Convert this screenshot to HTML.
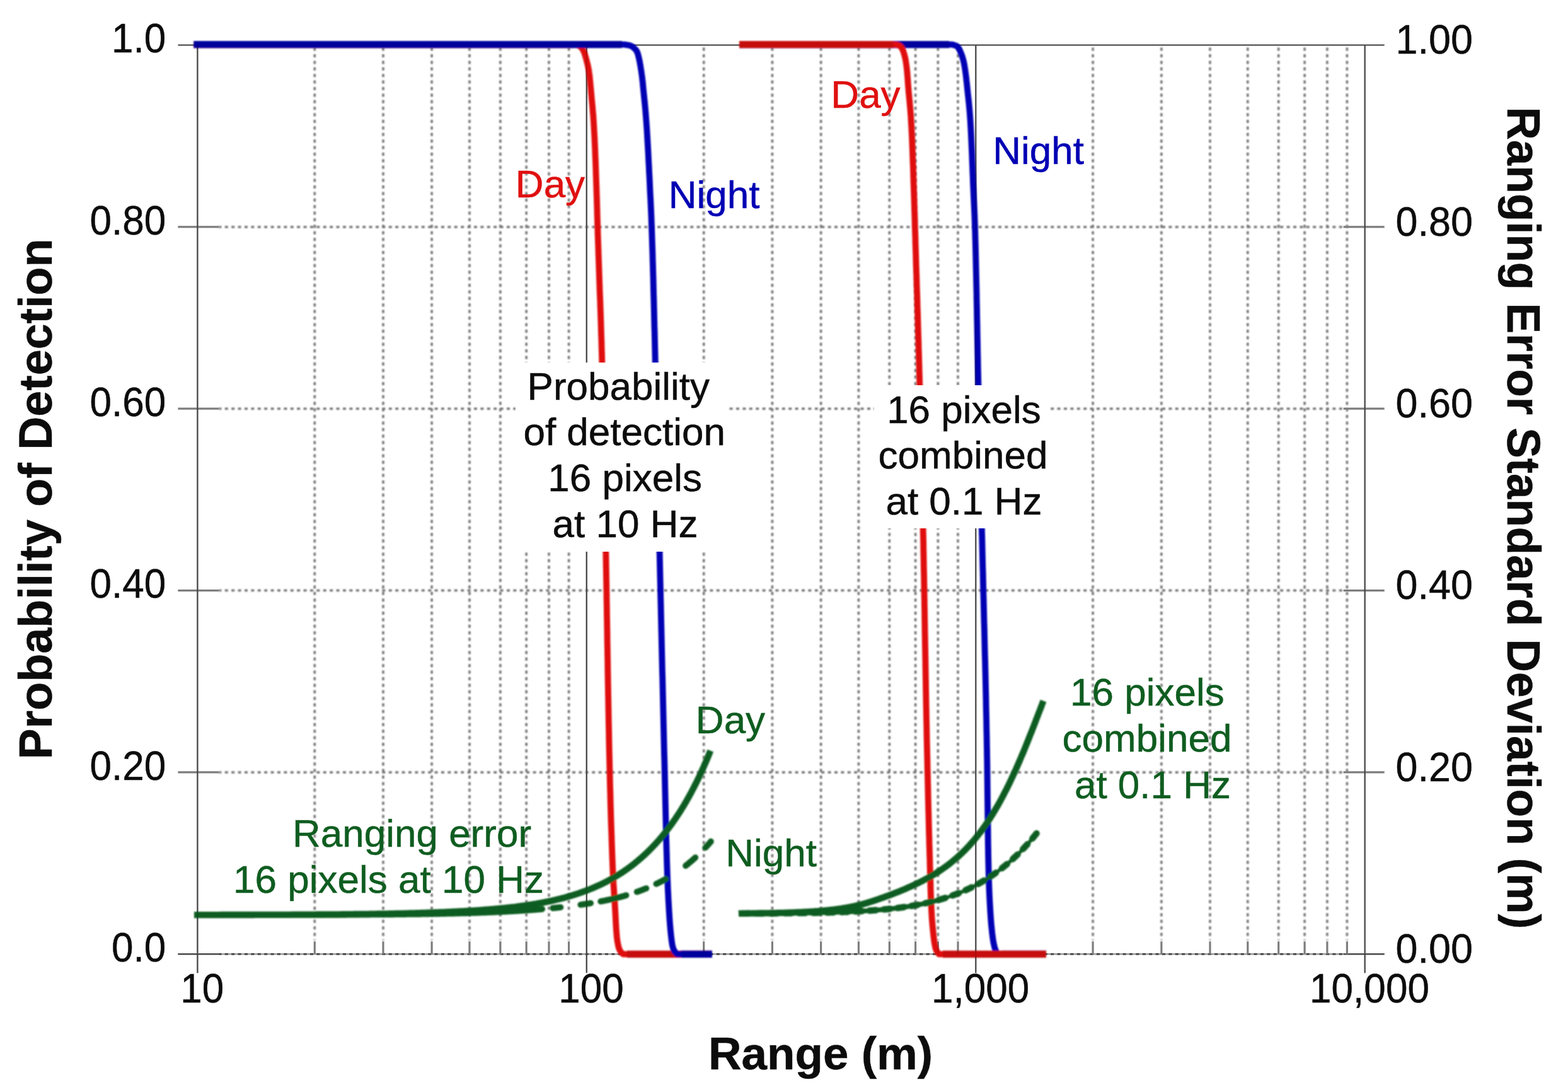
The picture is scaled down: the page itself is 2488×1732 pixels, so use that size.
<!DOCTYPE html><html><head><meta charset="utf-8"><title>Range chart</title><style>
html,body{margin:0;padding:0;background:#fff;}body{width:2488px;height:1732px;overflow:hidden;}
svg{display:block;font-family:"Liberation Sans",sans-serif;}
text{stroke-width:0.5px;paint-order:stroke;}
.tk{font-size:65px;fill:#0c0c0c;stroke:#0c0c0c;}
.tkx{font-size:65px;fill:#0c0c0c;stroke:#0c0c0c;}
.ttl{font-size:73.6px;font-weight:bold;fill:#0c0c0c;stroke:#0c0c0c;}
.ann{font-size:62px;}
</style></head><body>
<svg width="2488" height="1732" viewBox="0 0 2488 1732">
<defs><filter id="b" x="-5%" y="-5%" width="110%" height="110%"><feGaussianBlur stdDeviation="0.8"/></filter>
<filter id="b2" x="-5%" y="-5%" width="110%" height="110%"><feGaussianBlur stdDeviation="0.5"/></filter></defs>
<rect width="2488" height="1732" fill="#fff"/>
<g filter="url(#b)" stroke="#727272" stroke-width="3.5" stroke-dasharray="5 5.4" fill="none">
<line x1="499.3" y1="75.6" x2="499.3" y2="1491.2"/>
<line x1="608.0" y1="75.6" x2="608.0" y2="1491.2"/>
<line x1="685.1" y1="75.6" x2="685.1" y2="1491.2"/>
<line x1="745.0" y1="75.6" x2="745.0" y2="1491.2"/>
<line x1="793.9" y1="75.6" x2="793.9" y2="1491.2"/>
<line x1="835.2" y1="75.6" x2="835.2" y2="1491.2"/>
<line x1="871.0" y1="75.6" x2="871.0" y2="1491.2"/>
<line x1="902.6" y1="75.6" x2="902.6" y2="1491.2"/>
<line x1="1116.7" y1="75.6" x2="1116.7" y2="1491.2"/>
<line x1="1225.4" y1="75.6" x2="1225.4" y2="1491.2"/>
<line x1="1302.6" y1="75.6" x2="1302.6" y2="1491.2"/>
<line x1="1362.4" y1="75.6" x2="1362.4" y2="1491.2"/>
<line x1="1411.3" y1="75.6" x2="1411.3" y2="1491.2"/>
<line x1="1452.6" y1="75.6" x2="1452.6" y2="1491.2"/>
<line x1="1488.4" y1="75.6" x2="1488.4" y2="1491.2"/>
<line x1="1520.0" y1="75.6" x2="1520.0" y2="1491.2"/>
<line x1="1734.1" y1="75.6" x2="1734.1" y2="1491.2"/>
<line x1="1842.9" y1="75.6" x2="1842.9" y2="1491.2"/>
<line x1="1920.0" y1="75.6" x2="1920.0" y2="1491.2"/>
<line x1="1979.8" y1="75.6" x2="1979.8" y2="1491.2"/>
<line x1="2028.7" y1="75.6" x2="2028.7" y2="1491.2"/>
<line x1="2070.1" y1="75.6" x2="2070.1" y2="1491.2"/>
<line x1="2105.9" y1="75.6" x2="2105.9" y2="1491.2"/>
<line x1="2137.4" y1="75.6" x2="2137.4" y2="1491.2"/>
<line x1="347.4" y1="1224.9" x2="2131.7" y2="1224.9" stroke-dashoffset="1"/>
<line x1="347.4" y1="936.6" x2="2131.7" y2="936.6" stroke-dashoffset="1"/>
<line x1="347.4" y1="648.2" x2="2131.7" y2="648.2" stroke-dashoffset="1"/>
<line x1="347.4" y1="359.9" x2="2131.7" y2="359.9" stroke-dashoffset="1"/>
</g>
<g filter="url(#b2)" fill="none">
<line x1="282.4" y1="1513.2" x2="2196.7" y2="1513.2" stroke="#999" stroke-width="2.4"/>
<g style="mix-blend-mode:multiply" stroke="#6e6e6e" stroke-width="3" stroke-dasharray="5 5.4"><line x1="347.4" y1="1513.2" x2="2131.7" y2="1513.2" stroke-dashoffset="1"/></g>
<g stroke="#3c3c3c" stroke-width="2">
<line x1="282.4" y1="71.6" x2="2196.7" y2="71.6"/>
<line x1="282.4" y1="1513.2" x2="347.4" y2="1513.2"/>
<line x1="2131.7" y1="1513.2" x2="2196.7" y2="1513.2"/>
</g></g>
<g filter="url(#b2)" fill="none">
<g stroke="#8a8a8a" stroke-width="3.2">
<line x1="282.4" y1="1224.9" x2="347.4" y2="1224.9"/>
<line x1="2131.7" y1="1224.9" x2="2196.7" y2="1224.9"/>
<line x1="282.4" y1="936.6" x2="347.4" y2="936.6"/>
<line x1="2131.7" y1="936.6" x2="2196.7" y2="936.6"/>
<line x1="282.4" y1="648.2" x2="347.4" y2="648.2"/>
<line x1="2131.7" y1="648.2" x2="2196.7" y2="648.2"/>
<line x1="282.4" y1="359.9" x2="347.4" y2="359.9"/>
<line x1="2131.7" y1="359.9" x2="2196.7" y2="359.9"/>
<line x1="499.3" y1="1493.2" x2="499.3" y2="1513.2"/>
<line x1="608.0" y1="1493.2" x2="608.0" y2="1513.2"/>
<line x1="685.1" y1="1493.2" x2="685.1" y2="1513.2"/>
<line x1="745.0" y1="1493.2" x2="745.0" y2="1513.2"/>
<line x1="793.9" y1="1493.2" x2="793.9" y2="1513.2"/>
<line x1="835.2" y1="1493.2" x2="835.2" y2="1513.2"/>
<line x1="871.0" y1="1493.2" x2="871.0" y2="1513.2"/>
<line x1="902.6" y1="1493.2" x2="902.6" y2="1513.2"/>
<line x1="1116.7" y1="1493.2" x2="1116.7" y2="1513.2"/>
<line x1="1225.4" y1="1493.2" x2="1225.4" y2="1513.2"/>
<line x1="1302.6" y1="1493.2" x2="1302.6" y2="1513.2"/>
<line x1="1362.4" y1="1493.2" x2="1362.4" y2="1513.2"/>
<line x1="1411.3" y1="1493.2" x2="1411.3" y2="1513.2"/>
<line x1="1452.6" y1="1493.2" x2="1452.6" y2="1513.2"/>
<line x1="1488.4" y1="1493.2" x2="1488.4" y2="1513.2"/>
<line x1="1520.0" y1="1493.2" x2="1520.0" y2="1513.2"/>
<line x1="1734.1" y1="1493.2" x2="1734.1" y2="1513.2"/>
<line x1="1842.9" y1="1493.2" x2="1842.9" y2="1513.2"/>
<line x1="1920.0" y1="1493.2" x2="1920.0" y2="1513.2"/>
<line x1="1979.8" y1="1493.2" x2="1979.8" y2="1513.2"/>
<line x1="2028.7" y1="1493.2" x2="2028.7" y2="1513.2"/>
<line x1="2070.1" y1="1493.2" x2="2070.1" y2="1513.2"/>
<line x1="2105.9" y1="1493.2" x2="2105.9" y2="1513.2"/>
<line x1="2137.4" y1="1493.2" x2="2137.4" y2="1513.2"/>
</g>
<g stroke="#555" stroke-width="2.3">
<line x1="313.4" y1="71.6" x2="313.4" y2="1543.2"/>
<line x1="2165.7" y1="71.6" x2="2165.7" y2="1543.2"/>
<line x1="930.8" y1="71.6" x2="930.8" y2="1543.2"/>
<line x1="1548.3" y1="71.6" x2="1548.3" y2="1543.2"/>
</g></g>
<g filter="url(#b)">
<path d="M307.5 70.6L913.0 70.6L916.5 71.6L918.7 72.6L920.3 73.6L921.6 74.6L922.6 75.6L923.4 76.6L924.1 77.6L924.7 78.6L925.3 79.6L925.8 80.6L926.3 81.6L926.7 82.6L927.1 83.6L927.5 84.6L927.8 85.6L928.1 86.6L928.5 87.6L928.7 88.6L929.0 89.6L929.3 90.6L929.6 91.6L929.9 92.6L930.1 93.6L930.4 94.6L930.7 95.6L930.9 96.6L931.2 97.6L931.4 98.6L931.7 99.6L931.9 100.6L932.2 101.6L932.4 102.6L932.7 103.6L932.9 104.6L933.1 105.6L933.3 106.6L933.5 107.6L933.7 108.6L933.9 109.6L934.1 110.6L934.3 111.6L934.4 112.6L934.6 113.6L934.7 114.6L934.9 115.6L935.0 116.6L935.1 117.6L935.3 118.6L935.4 119.6L935.5 120.6L935.6 121.6L935.7 122.6L935.8 123.6L935.9 124.6L936.0 125.6L936.1 126.6L936.2 127.6L936.3 128.6L936.4 129.6L936.5 130.6L937.3 139.4L938.1 148.2L938.9 157.1L939.8 165.9L940.5 174.7L941.3 183.5L941.9 192.3L942.4 201.1L942.9 210.0L943.4 218.8L943.8 227.6L944.2 236.4L944.5 245.2L944.9 254.1L945.2 262.9L945.5 271.7L945.8 280.5L946.1 289.3L946.4 298.2L946.7 307.0L947.0 315.8L947.2 324.6L947.5 333.4L947.7 342.2L948.0 351.1L948.2 359.9L948.5 368.7L948.8 377.5L949.1 386.3L949.4 395.2L949.7 404.0L950.0 412.8L950.3 421.6L950.6 430.4L950.9 439.3L951.2 448.1L951.5 456.9L951.8 465.7L952.2 474.5L952.5 483.3L952.8 492.2L953.1 501.0L953.4 509.8L953.7 518.6L953.9 527.4L954.2 536.3L954.5 545.1L954.7 553.9L955.0 562.7L955.2 571.5L955.4 580.4L955.7 589.2L955.9 598.0L956.1 606.8L956.3 615.6L956.5 624.4L956.7 633.3L956.9 642.1L957.1 650.9L957.2 659.7L957.4 668.5L957.6 677.4L957.8 686.2L958.0 695.0L958.1 703.8L958.3 712.6L958.5 721.5L958.6 730.3L958.8 739.1L959.0 747.9L959.1 756.7L959.3 765.5L959.5 774.4L959.6 783.2L959.8 792.0L959.9 800.8L960.1 809.6L960.3 818.5L960.4 827.3L960.6 836.1L960.7 844.9L960.9 853.7L961.1 862.5L961.2 871.4L961.4 880.2L961.6 889.0L961.7 897.8L961.9 906.6L962.0 915.5L962.2 924.3L962.3 933.1L962.5 941.9L962.6 950.7L962.8 959.6L962.9 968.4L963.0 977.2L963.2 986.0L963.3 994.8L963.5 1003.6L963.6 1012.5L963.7 1021.3L963.9 1030.1L964.0 1038.9L964.2 1047.7L964.3 1056.6L964.4 1065.4L964.6 1074.2L964.7 1083.0L964.9 1091.8L965.0 1100.7L965.2 1109.5L965.3 1118.3L965.5 1127.1L965.7 1135.9L965.8 1144.7L966.0 1153.6L966.2 1162.4L966.3 1171.2L966.5 1180.0L966.7 1188.8L966.9 1197.7L967.1 1206.5L967.3 1215.3L967.5 1224.1L967.7 1232.9L967.9 1241.8L968.1 1250.6L968.4 1259.4L968.6 1268.2L968.8 1277.0L969.1 1285.8L969.3 1294.7L969.6 1303.5L969.9 1312.3L970.2 1321.1L970.5 1329.9L970.8 1338.8L971.1 1347.6L971.4 1356.4L971.8 1365.2L972.1 1374.0L972.5 1382.9L973.0 1391.7L973.4 1400.5L974.0 1409.3L974.5 1418.1L975.1 1426.9L975.7 1435.8L976.2 1444.6L976.7 1453.4L976.7 1454.4L976.8 1455.4L976.8 1456.4L976.9 1457.4L976.9 1458.4L977.0 1459.4L977.0 1460.4L977.1 1461.4L977.1 1462.4L977.2 1463.4L977.2 1464.4L977.3 1465.4L977.3 1466.4L977.4 1467.4L977.5 1468.4L977.5 1469.4L977.6 1470.4L977.6 1471.4L977.7 1472.4L977.8 1473.4L977.8 1474.4L977.9 1475.4L978.0 1476.4L978.1 1477.4L978.1 1478.4L978.2 1479.4L978.3 1480.4L978.4 1481.4L978.5 1482.4L978.6 1483.4L978.6 1484.4L978.7 1485.4L978.8 1486.4L978.9 1487.4L979.1 1488.4L979.2 1489.4L979.3 1490.4L979.4 1491.4L979.6 1492.4L979.7 1493.4L979.9 1494.4L980.1 1495.4L980.3 1496.4L980.5 1497.4L980.7 1498.4L980.9 1499.4L981.1 1500.4L981.4 1501.4L981.6 1502.4L981.9 1503.4L982.2 1504.4L982.6 1505.4L983.1 1506.4L983.6 1507.4L984.1 1508.4L984.8 1509.4L985.6 1510.4L986.6 1511.4L987.8 1512.4L989.0 1513.4L1130.0 1513.4" fill="none" stroke="#e01010" stroke-width="9.8" stroke-linejoin="round"/>
<line x1="307.5" y1="70.6" x2="909.0" y2="70.6" stroke="#c60c0c" stroke-width="11.4"/>
<line x1="995.0" y1="1513.4" x2="1130.0" y2="1513.4" stroke="#c60c0c" stroke-width="11.4"/>
<path d="M307.5 70.6L990.8 70.6L996.9 71.6L1000.7 72.6L1002.7 73.6L1004.2 74.6L1005.4 75.6L1006.5 76.6L1007.5 77.6L1008.5 78.6L1009.3 79.6L1010.0 80.6L1010.6 81.6L1011.0 82.6L1011.4 83.6L1011.8 84.6L1012.1 85.6L1012.4 86.6L1012.7 87.6L1012.9 88.6L1013.2 89.6L1013.4 90.6L1013.6 91.6L1013.9 92.6L1014.1 93.6L1014.3 94.6L1014.5 95.6L1014.8 96.6L1015.0 97.6L1015.2 98.6L1015.3 99.6L1015.5 100.6L1015.7 101.6L1015.9 102.6L1016.1 103.6L1016.2 104.6L1016.4 105.6L1016.6 106.6L1016.7 107.6L1016.9 108.6L1017.0 109.6L1017.2 110.6L1017.4 111.6L1017.5 112.6L1017.7 113.6L1017.8 114.6L1017.9 115.6L1018.1 116.6L1018.2 117.6L1018.4 118.6L1018.5 119.6L1018.6 120.6L1018.8 121.6L1018.9 122.6L1019.0 123.6L1019.1 124.6L1019.2 125.6L1019.3 126.6L1019.5 127.6L1019.6 128.6L1019.7 129.6L1019.8 130.6L1020.6 139.4L1021.5 148.2L1022.4 157.1L1023.3 165.9L1024.1 174.7L1024.8 183.5L1025.5 192.3L1026.1 201.1L1026.7 210.0L1027.2 218.8L1027.7 227.6L1028.2 236.4L1028.7 245.2L1029.1 254.1L1029.6 262.9L1030.0 271.7L1030.5 280.5L1030.9 289.3L1031.3 298.2L1031.7 307.0L1032.2 315.8L1032.6 324.6L1033.0 333.4L1033.4 342.2L1033.7 351.1L1034.0 359.9L1034.3 368.7L1034.6 377.5L1034.9 386.3L1035.2 395.2L1035.5 404.0L1035.7 412.8L1036.0 421.6L1036.2 430.4L1036.5 439.3L1036.7 448.1L1036.9 456.9L1037.1 465.7L1037.4 474.5L1037.6 483.3L1037.8 492.2L1038.0 501.0L1038.2 509.8L1038.4 518.6L1038.7 527.4L1038.9 536.3L1039.1 545.1L1039.3 553.9L1039.5 562.7L1039.7 571.5L1039.9 580.4L1040.1 589.2L1040.4 598.0L1040.6 606.8L1040.8 615.6L1041.0 624.4L1041.2 633.3L1041.4 642.1L1041.6 650.9L1041.8 659.7L1042.0 668.5L1042.2 677.4L1042.4 686.2L1042.6 695.0L1042.8 703.8L1043.0 712.6L1043.2 721.5L1043.4 730.3L1043.6 739.1L1043.8 747.9L1044.0 756.7L1044.2 765.5L1044.4 774.4L1044.6 783.2L1044.8 792.0L1044.9 800.8L1045.1 809.6L1045.3 818.5L1045.5 827.3L1045.7 836.1L1045.9 844.9L1046.1 853.7L1046.3 862.5L1046.5 871.4L1046.7 880.2L1046.9 889.0L1047.1 897.8L1047.3 906.6L1047.5 915.5L1047.7 924.3L1047.9 933.1L1048.1 941.9L1048.3 950.7L1048.5 959.6L1048.7 968.4L1048.9 977.2L1049.1 986.0L1049.3 994.8L1049.5 1003.6L1049.7 1012.5L1049.9 1021.3L1050.1 1030.1L1050.3 1038.9L1050.5 1047.7L1050.7 1056.6L1050.9 1065.4L1051.2 1074.2L1051.4 1083.0L1051.6 1091.8L1051.8 1100.7L1052.0 1109.5L1052.2 1118.3L1052.4 1127.1L1052.6 1135.9L1052.8 1144.7L1053.0 1153.6L1053.2 1162.4L1053.4 1171.2L1053.6 1180.0L1053.8 1188.8L1054.0 1197.7L1054.3 1206.5L1054.5 1215.3L1054.7 1224.1L1054.9 1232.9L1055.1 1241.8L1055.3 1250.6L1055.5 1259.4L1055.7 1268.2L1055.9 1277.0L1056.1 1285.8L1056.3 1294.7L1056.5 1303.5L1056.7 1312.3L1056.9 1321.1L1057.1 1329.9L1057.4 1338.8L1057.6 1347.6L1057.9 1356.4L1058.1 1365.2L1058.4 1374.0L1058.7 1382.9L1059.0 1391.7L1059.4 1400.5L1059.7 1409.3L1060.2 1418.1L1060.6 1426.9L1061.1 1435.8L1061.6 1444.6L1062.2 1453.4L1062.2 1454.4L1062.3 1455.4L1062.4 1456.4L1062.4 1457.4L1062.5 1458.4L1062.6 1459.4L1062.7 1460.4L1062.7 1461.4L1062.8 1462.4L1062.9 1463.4L1063.0 1464.4L1063.0 1465.4L1063.1 1466.4L1063.2 1467.4L1063.3 1468.4L1063.4 1469.4L1063.5 1470.4L1063.6 1471.4L1063.6 1472.4L1063.7 1473.4L1063.8 1474.4L1063.9 1475.4L1064.0 1476.4L1064.1 1477.4L1064.2 1478.4L1064.3 1479.4L1064.4 1480.4L1064.5 1481.4L1064.6 1482.4L1064.7 1483.4L1064.8 1484.4L1064.9 1485.4L1065.1 1486.4L1065.2 1487.4L1065.3 1488.4L1065.4 1489.4L1065.5 1490.4L1065.6 1491.4L1065.8 1492.4L1065.9 1493.4L1066.1 1494.4L1066.2 1495.4L1066.4 1496.4L1066.5 1497.4L1066.7 1498.4L1066.9 1499.4L1067.1 1500.4L1067.4 1501.4L1067.6 1502.4L1067.9 1503.4L1068.2 1504.4L1068.6 1505.4L1069.1 1506.4L1069.6 1507.4L1070.1 1508.4L1070.8 1509.4L1071.6 1510.4L1072.6 1511.4L1073.8 1512.4L1075.0 1513.4L1130.0 1513.4" fill="none" stroke="#0000b4" stroke-width="9.8" stroke-linejoin="round"/>
<line x1="307.5" y1="70.6" x2="986.8" y2="70.6" stroke="#00009c" stroke-width="11.4"/>
<line x1="1081.0" y1="1513.4" x2="1130.0" y2="1513.4" stroke="#00009c" stroke-width="11.4"/>
<path d="M1173.0 70.6L1510.2 70.6L1514.1 71.6L1517.3 72.6L1518.7 73.6L1519.7 74.6L1520.6 75.6L1521.3 76.6L1521.9 77.6L1522.4 78.6L1522.9 79.6L1523.3 80.6L1523.7 81.6L1524.1 82.6L1524.6 83.6L1525.0 84.6L1525.4 85.6L1525.7 86.6L1526.1 87.6L1526.4 88.6L1526.8 89.6L1527.1 90.6L1527.4 91.6L1527.7 92.6L1528.0 93.6L1528.3 94.6L1528.5 95.6L1528.8 96.6L1529.0 97.6L1529.3 98.6L1529.5 99.6L1529.7 100.6L1529.9 101.6L1530.1 102.6L1530.3 103.6L1530.4 104.6L1530.6 105.6L1530.8 106.6L1530.9 107.6L1531.1 108.6L1531.3 109.6L1531.4 110.6L1531.6 111.6L1531.7 112.6L1531.8 113.6L1532.0 114.6L1532.1 115.6L1532.3 116.6L1532.4 117.6L1532.5 118.6L1532.6 119.6L1532.8 120.6L1532.9 121.6L1533.0 122.6L1533.1 123.6L1533.2 124.6L1533.3 125.6L1533.4 126.6L1533.5 127.6L1533.6 128.6L1533.8 129.6L1533.9 130.6L1534.8 139.4L1535.7 148.2L1536.7 157.1L1537.6 165.9L1538.4 174.7L1539.1 183.5L1539.7 192.3L1540.2 201.1L1540.7 210.0L1541.1 218.8L1541.5 227.6L1541.9 236.4L1542.3 245.2L1542.6 254.1L1543.0 262.9L1543.3 271.7L1543.7 280.5L1544.0 289.3L1544.4 298.2L1544.8 307.0L1545.2 315.8L1545.6 324.6L1546.0 333.4L1546.4 342.2L1546.7 351.1L1547.0 359.9L1547.3 368.7L1547.5 377.5L1547.8 386.3L1548.0 395.2L1548.2 404.0L1548.4 412.8L1548.6 421.6L1548.8 430.4L1549.0 439.3L1549.2 448.1L1549.4 456.9L1549.6 465.7L1549.7 474.5L1549.9 483.3L1550.1 492.2L1550.2 501.0L1550.4 509.8L1550.6 518.6L1550.7 527.4L1550.9 536.3L1551.1 545.1L1551.2 553.9L1551.4 562.7L1551.6 571.5L1551.7 580.4L1551.9 589.2L1552.1 598.0L1552.3 606.8L1552.5 615.6L1552.7 624.4L1552.9 633.3L1553.1 642.1L1553.3 650.9L1553.5 659.7L1553.7 668.5L1554.0 677.4L1554.2 686.2L1554.4 695.0L1554.6 703.8L1554.8 712.6L1555.0 721.5L1555.3 730.3L1555.5 739.1L1555.7 747.9L1555.9 756.7L1556.1 765.5L1556.3 774.4L1556.6 783.2L1556.8 792.0L1557.0 800.8L1557.2 809.6L1557.4 818.5L1557.6 827.3L1557.8 836.1L1558.0 844.9L1558.3 853.7L1558.5 862.5L1558.7 871.4L1558.9 880.2L1559.1 889.0L1559.3 897.8L1559.6 906.6L1559.8 915.5L1560.0 924.3L1560.2 933.1L1560.4 941.9L1560.7 950.7L1560.9 959.6L1561.1 968.4L1561.3 977.2L1561.5 986.0L1561.8 994.8L1562.0 1003.6L1562.2 1012.5L1562.4 1021.3L1562.6 1030.1L1562.8 1038.9L1563.1 1047.7L1563.3 1056.6L1563.5 1065.4L1563.7 1074.2L1563.9 1083.0L1564.1 1091.8L1564.3 1100.7L1564.5 1109.5L1564.6 1118.3L1564.8 1127.1L1565.0 1135.9L1565.2 1144.7L1565.3 1153.6L1565.5 1162.4L1565.7 1171.2L1565.8 1180.0L1566.0 1188.8L1566.1 1197.7L1566.3 1206.5L1566.4 1215.3L1566.5 1224.1L1566.6 1232.9L1566.7 1241.8L1566.8 1250.6L1566.9 1259.4L1567.0 1268.2L1567.1 1277.0L1567.2 1285.8L1567.3 1294.7L1567.4 1303.5L1567.5 1312.3L1567.6 1321.1L1567.7 1329.9L1567.8 1338.8L1568.0 1347.6L1568.1 1356.4L1568.3 1365.2L1568.5 1374.0L1568.7 1382.9L1568.9 1391.7L1569.2 1400.5L1569.5 1409.3L1569.9 1418.1L1570.3 1426.9L1570.8 1435.8L1571.3 1444.6L1571.9 1453.4L1571.9 1454.4L1572.0 1455.4L1572.1 1456.4L1572.2 1457.4L1572.2 1458.4L1572.3 1459.4L1572.4 1460.4L1572.5 1461.4L1572.6 1462.4L1572.6 1463.4L1572.7 1464.4L1572.8 1465.4L1572.9 1466.4L1573.0 1467.4L1573.1 1468.4L1573.2 1469.4L1573.3 1470.4L1573.4 1471.4L1573.5 1472.4L1573.6 1473.4L1573.7 1474.4L1573.8 1475.4L1573.9 1476.4L1574.0 1477.4L1574.1 1478.4L1574.2 1479.4L1574.3 1480.4L1574.5 1481.4L1574.6 1482.4L1574.7 1483.4L1574.8 1484.4L1575.0 1485.4L1575.1 1486.4L1575.2 1487.4L1575.4 1488.4L1575.5 1489.4L1575.7 1490.4L1575.8 1491.4L1576.0 1492.4L1576.2 1493.4L1576.3 1494.4L1576.5 1495.4L1576.7 1496.4L1576.9 1497.4L1577.2 1498.4L1577.4 1499.4L1577.6 1500.4L1577.9 1501.4L1578.1 1502.4L1578.4 1503.4L1578.7 1504.4L1579.0 1505.4L1579.4 1506.4L1579.8 1507.4L1580.2 1508.4L1580.7 1509.4L1581.4 1510.4L1582.2 1511.4L1583.1 1512.4L1584.0 1513.4L1660.0 1513.4" fill="none" stroke="#0000b4" stroke-width="9.8" stroke-linejoin="round"/>
<line x1="1173.0" y1="70.6" x2="1506.2" y2="70.6" stroke="#00009c" stroke-width="11.4"/>
<line x1="1590.0" y1="1513.4" x2="1660.0" y2="1513.4" stroke="#00009c" stroke-width="11.4"/>
<path d="M1173.0 70.6L1421.4 70.6L1424.7 71.6L1427.4 72.6L1428.7 73.6L1429.6 74.6L1430.4 75.6L1431.1 76.6L1431.7 77.6L1432.2 78.6L1432.6 79.6L1433.0 80.6L1433.3 81.6L1433.7 82.6L1434.0 83.6L1434.3 84.6L1434.6 85.6L1434.9 86.6L1435.2 87.6L1435.5 88.6L1435.7 89.6L1436.0 90.6L1436.2 91.6L1436.4 92.6L1436.6 93.6L1436.8 94.6L1437.0 95.6L1437.2 96.6L1437.3 97.6L1437.5 98.6L1437.7 99.6L1437.8 100.6L1438.0 101.6L1438.1 102.6L1438.2 103.6L1438.3 104.6L1438.5 105.6L1438.6 106.6L1438.7 107.6L1438.8 108.6L1438.9 109.6L1439.0 110.6L1439.1 111.6L1439.2 112.6L1439.3 113.6L1439.4 114.6L1439.5 115.6L1439.6 116.6L1439.7 117.6L1439.7 118.6L1439.8 119.6L1439.9 120.6L1440.0 121.6L1440.1 122.6L1440.1 123.6L1440.2 124.6L1440.3 125.6L1440.3 126.6L1440.4 127.6L1440.5 128.6L1440.6 129.6L1440.6 130.6L1441.3 139.4L1442.0 148.2L1442.9 157.1L1443.7 165.9L1444.5 174.7L1445.2 183.5L1445.7 192.3L1446.2 201.1L1446.7 210.0L1447.1 218.8L1447.4 227.6L1447.8 236.4L1448.1 245.2L1448.4 254.1L1448.8 262.9L1449.1 271.7L1449.3 280.5L1449.6 289.3L1449.9 298.2L1450.2 307.0L1450.5 315.8L1450.8 324.6L1451.0 333.4L1451.3 342.2L1451.6 351.1L1451.8 359.9L1452.1 368.7L1452.4 377.5L1452.6 386.3L1452.9 395.2L1453.2 404.0L1453.4 412.8L1453.7 421.6L1454.0 430.4L1454.3 439.3L1454.5 448.1L1454.8 456.9L1455.1 465.7L1455.4 474.5L1455.6 483.3L1455.9 492.2L1456.2 501.0L1456.4 509.8L1456.7 518.6L1456.9 527.4L1457.2 536.3L1457.5 545.1L1457.7 553.9L1458.0 562.7L1458.2 571.5L1458.5 580.4L1458.7 589.2L1459.0 598.0L1459.2 606.8L1459.4 615.6L1459.7 624.4L1459.9 633.3L1460.1 642.1L1460.3 650.9L1460.6 659.7L1460.8 668.5L1461.0 677.4L1461.2 686.2L1461.4 695.0L1461.7 703.8L1461.9 712.6L1462.1 721.5L1462.3 730.3L1462.5 739.1L1462.7 747.9L1462.9 756.7L1463.1 765.5L1463.3 774.4L1463.5 783.2L1463.7 792.0L1463.9 800.8L1464.1 809.6L1464.3 818.5L1464.5 827.3L1464.6 836.1L1464.8 844.9L1465.0 853.7L1465.2 862.5L1465.3 871.4L1465.5 880.2L1465.7 889.0L1465.8 897.8L1466.0 906.6L1466.2 915.5L1466.3 924.3L1466.5 933.1L1466.6 941.9L1466.8 950.7L1466.9 959.6L1467.1 968.4L1467.2 977.2L1467.3 986.0L1467.5 994.8L1467.6 1003.6L1467.8 1012.5L1467.9 1021.3L1468.1 1030.1L1468.2 1038.9L1468.4 1047.7L1468.5 1056.6L1468.7 1065.4L1468.8 1074.2L1469.0 1083.0L1469.1 1091.8L1469.3 1100.7L1469.4 1109.5L1469.6 1118.3L1469.8 1127.1L1469.9 1135.9L1470.1 1144.7L1470.3 1153.6L1470.4 1162.4L1470.6 1171.2L1470.8 1180.0L1471.0 1188.8L1471.2 1197.7L1471.4 1206.5L1471.6 1215.3L1471.8 1224.1L1472.0 1232.9L1472.2 1241.8L1472.4 1250.6L1472.6 1259.4L1472.8 1268.2L1473.0 1277.0L1473.2 1285.8L1473.5 1294.7L1473.7 1303.5L1473.9 1312.3L1474.1 1321.1L1474.4 1329.9L1474.6 1338.8L1474.9 1347.6L1475.1 1356.4L1475.4 1365.2L1475.6 1374.0L1475.9 1382.9L1476.1 1391.7L1476.4 1400.5L1476.6 1409.3L1476.9 1418.1L1477.2 1426.9L1477.6 1435.8L1478.0 1444.6L1478.5 1453.4L1478.6 1454.4L1478.6 1455.4L1478.7 1456.4L1478.8 1457.4L1478.9 1458.4L1478.9 1459.4L1479.0 1460.4L1479.1 1461.4L1479.2 1462.4L1479.3 1463.4L1479.4 1464.4L1479.4 1465.4L1479.5 1466.4L1479.6 1467.4L1479.7 1468.4L1479.8 1469.4L1479.9 1470.4L1480.0 1471.4L1480.1 1472.4L1480.2 1473.4L1480.3 1474.4L1480.4 1475.4L1480.5 1476.4L1480.6 1477.4L1480.7 1478.4L1480.8 1479.4L1480.9 1480.4L1481.0 1481.4L1481.1 1482.4L1481.2 1483.4L1481.3 1484.4L1481.4 1485.4L1481.6 1486.4L1481.7 1487.4L1481.8 1488.4L1481.9 1489.4L1482.0 1490.4L1482.2 1491.4L1482.3 1492.4L1482.4 1493.4L1482.6 1494.4L1482.7 1495.4L1482.9 1496.4L1483.1 1497.4L1483.3 1498.4L1483.5 1499.4L1483.7 1500.4L1483.9 1501.4L1484.1 1502.4L1484.3 1503.4L1484.6 1504.4L1485.0 1505.4L1485.3 1506.4L1485.7 1507.4L1486.2 1508.4L1486.7 1509.4L1487.4 1510.4L1488.2 1511.4L1489.1 1512.4L1490.0 1513.4L1660.0 1513.4" fill="none" stroke="#e01010" stroke-width="9.8" stroke-linejoin="round"/>
<line x1="1173.0" y1="70.6" x2="1417.4" y2="70.6" stroke="#c60c0c" stroke-width="11.4"/>
<line x1="1496.0" y1="1513.4" x2="1660.0" y2="1513.4" stroke="#c60c0c" stroke-width="11.4"/>
<g fill="none" stroke="#0f5d20" stroke-width="10.3" stroke-linecap="butt" stroke-linejoin="round">
<path d="M317.7 1451.2L318.3 1451.2L318.8 1451.2L319.3 1451.2L319.8 1451.2L320.3 1451.2L320.8 1451.2L321.3 1451.2L321.8 1451.2L322.4 1451.2L322.9 1451.2L323.4 1451.2L323.9 1451.2L324.4 1451.2L324.9 1451.2L325.4 1451.2L325.9 1451.2L326.5 1451.2L327.0 1451.2L327.5 1451.2L328.0 1451.2L328.5 1451.2L329.0 1451.2L329.5 1451.1L330.1 1451.1L330.6 1451.1L331.1 1451.1L331.6 1451.1L332.1 1451.1L332.6 1451.1L333.1 1451.1L333.6 1451.1L334.2 1451.1L334.7 1451.1L335.2 1451.1L335.7 1451.1L336.2 1451.1L336.7 1451.1L337.2 1451.1L337.7 1451.1L338.3 1451.1L338.8 1451.1L339.3 1451.1L339.8 1451.1L340.3 1451.1L340.8 1451.1L341.3 1451.1L341.8 1451.1L342.4 1451.1L342.9 1451.1L343.4 1451.1L343.9 1451.1L344.4 1451.1L344.9 1451.1L345.4 1451.1L345.9 1451.1L346.5 1451.1L347.0 1451.1L347.5 1451.1L348.0 1451.1L348.5 1451.1L349.0 1451.1L349.5 1451.1L350.1 1451.1L350.6 1451.1L351.1 1451.1L351.6 1451.1L352.1 1451.1L352.6 1451.1L353.1 1451.1L353.6 1451.1L354.2 1451.1L354.7 1451.1L355.2 1451.1L355.7 1451.1L356.2 1451.1L356.7 1451.1L357.2 1451.1L357.7 1451.1L358.3 1451.1L358.8 1451.1L359.3 1451.1L359.8 1451.1L360.3 1451.1L360.8 1451.1L361.3 1451.1L361.8 1451.1L362.4 1451.1L362.9 1451.1L363.4 1451.1L363.9 1451.1L364.4 1451.1L364.9 1451.1L365.4 1451.1L365.9 1451.1L366.5 1451.1L367.0 1451.1L367.5 1451.1L368.0 1451.1L368.5 1451.1L369.0 1451.1L369.5 1451.1L370.1 1451.1L370.6 1451.1L371.1 1451.1L371.6 1451.1L372.1 1451.1L372.6 1451.1L373.1 1451.1L373.6 1451.1L374.2 1451.1L374.7 1451.1L375.2 1451.1L375.7 1451.1L376.2 1451.1L376.7 1451.1L377.2 1451.1L377.7 1451.1L378.3 1451.1L378.8 1451.1L379.3 1451.1L379.8 1451.1L380.3 1451.1L380.8 1451.1L381.3 1451.1L381.8 1451.1L382.4 1451.1L382.9 1451.1L383.4 1451.1L383.9 1451.1L384.4 1451.1L384.9 1451.1L385.4 1451.1L385.9 1451.1L386.5 1451.1L387.0 1451.1L387.5 1451.1L388.0 1451.1L388.5 1451.1L389.0 1451.1L389.5 1451.1L390.1 1451.1L390.6 1451.1L391.1 1451.1L391.6 1451.1L392.1 1451.1L392.6 1451.1L393.1 1451.1L393.6 1451.1L394.2 1451.1L394.7 1451.1L395.2 1451.1L395.7 1451.1L396.2 1451.1L396.7 1451.1L397.2 1451.1L397.7 1451.1L398.3 1451.1L398.8 1451.1L399.3 1451.1L399.8 1451.1L400.3 1451.1L400.8 1451.1L401.3 1451.1L401.8 1451.1L402.4 1451.1L402.9 1451.1L403.4 1451.1L403.9 1451.1L404.4 1451.1L404.9 1451.1L405.4 1451.1L405.9 1451.1L406.5 1451.1L407.0 1451.1L407.5 1451.1L408.0 1451.1L408.5 1451.1L409.0 1451.1L409.5 1451.1L410.0 1451.1L410.6 1451.1L411.1 1451.1L411.6 1451.1L412.1 1451.1L412.6 1451.1L413.1 1451.1L413.6 1451.1L414.2 1451.1L414.7 1451.1L415.2 1451.1L415.7 1451.1L416.2 1451.1L416.7 1451.1L417.2 1451.1L417.7 1451.1L418.3 1451.1L418.8 1451.1L419.3 1451.1L419.8 1451.1L420.3 1451.1L420.8 1451.1L421.3 1451.1L421.8 1451.1L422.4 1451.1L422.9 1451.1L423.4 1451.1L423.9 1451.1L424.4 1451.1L424.9 1451.1L425.4 1451.1L425.9 1451.1L426.5 1451.1L427.0 1451.1L427.5 1451.1L428.0 1451.1L428.5 1451.1L429.0 1451.1L429.5 1451.1L430.0 1451.1L430.6 1451.1L431.1 1451.1L431.6 1451.1L432.1 1451.1L432.6 1451.1L433.1 1451.1L433.6 1451.1L434.2 1451.1L434.7 1451.1L435.2 1451.1L435.7 1451.1L436.2 1451.1L436.7 1451.1L437.2 1451.1L437.7 1451.1L438.3 1451.1L438.8 1451.1L439.3 1451.1L439.8 1451.0L440.3 1451.0L440.8 1451.0L441.3 1451.0L441.8 1451.0L442.4 1451.0L442.9 1451.0L443.4 1451.0L443.9 1451.0L444.4 1451.0L444.9 1451.0L445.4 1451.0L445.9 1451.0L446.5 1451.0L447.0 1451.0L447.5 1451.0L448.0 1451.0L448.5 1451.0L449.0 1451.0L449.5 1451.0L450.0 1451.0L450.6 1451.0L451.1 1451.0L451.6 1451.0L452.1 1451.0L452.6 1451.0L453.1 1451.0L453.6 1451.0L454.2 1451.0L454.7 1451.0L455.2 1451.0L455.7 1451.0L456.2 1451.0L456.7 1451.0L457.2 1451.0L457.7 1451.0L458.3 1451.0L458.8 1451.0L459.3 1451.0L459.8 1451.0L460.3 1451.0L460.8 1451.0L461.3 1451.0L461.8 1451.0L462.4 1451.0L462.9 1451.0L463.4 1451.0L463.9 1451.0L464.4 1451.0L464.9 1451.0L465.4 1451.0L465.9 1451.0L466.5 1451.0L467.0 1451.0L467.5 1451.0L468.0 1451.0L468.5 1451.0L469.0 1451.0L469.5 1451.0L470.0 1451.0L470.6 1451.0L471.1 1451.0L471.6 1451.0L472.1 1451.0L472.6 1451.0L473.1 1451.0L473.6 1451.0L474.2 1451.0L474.7 1451.0L475.2 1451.0L475.7 1451.0L476.2 1451.0L476.7 1451.0L477.2 1451.0L477.7 1451.0L478.3 1451.0L478.8 1451.0L479.3 1451.0L479.8 1451.0L480.3 1451.0L480.8 1451.0L481.3 1451.0L481.8 1451.0L482.4 1451.0L482.9 1451.0L483.4 1451.0L483.9 1451.0L484.4 1451.0L484.9 1451.0L485.4 1451.0L485.9 1451.0L486.5 1451.0L487.0 1451.0L487.5 1451.0L488.0 1451.0L488.5 1451.0L489.0 1451.0L489.5 1451.0L490.0 1451.0L490.6 1451.0L491.1 1450.9L491.6 1450.9L492.1 1450.9L492.6 1450.9L493.1 1450.9L493.6 1450.9L494.2 1450.9L494.7 1450.9L495.2 1450.9L495.7 1450.9L496.2 1450.9L496.7 1450.9L497.2 1450.9L497.7 1450.9L498.3 1450.9L498.8 1450.9L499.3 1450.9L499.8 1450.9L500.3 1450.9L500.8 1450.9L501.3 1450.9L501.8 1450.9L502.4 1450.9L502.9 1450.9L503.4 1450.9L503.9 1450.9L504.4 1450.9L504.9 1450.9L505.4 1450.9L505.9 1450.9L506.5 1450.9L507.0 1450.9L507.5 1450.9L508.0 1450.9L508.5 1450.9L509.0 1450.9L509.5 1450.9L510.0 1450.9L510.6 1450.9L511.1 1450.9L511.6 1450.9L512.1 1450.9L512.6 1450.9L513.1 1450.9L513.6 1450.9L514.2 1450.9L514.7 1450.9L515.2 1450.9L515.7 1450.9L516.2 1450.9L516.7 1450.9L517.2 1450.9L517.7 1450.9L518.3 1450.9L518.8 1450.9L519.3 1450.9L519.8 1450.9L520.3 1450.9L520.8 1450.9L521.3 1450.9L521.8 1450.9L522.4 1450.9L522.9 1450.9L523.4 1450.9L523.9 1450.9L524.4 1450.9L524.9 1450.8L525.4 1450.8L525.9 1450.8L526.5 1450.8L527.0 1450.8L527.5 1450.8L528.0 1450.8L528.5 1450.8L529.0 1450.8L529.5 1450.8L530.0 1450.8L530.6 1450.8L531.1 1450.8L531.6 1450.8L532.1 1450.8L532.6 1450.8L533.1 1450.8L533.6 1450.8L534.2 1450.8L534.7 1450.8L535.2 1450.8L535.7 1450.8L536.2 1450.8L536.7 1450.8L537.2 1450.8L537.7 1450.8L538.3 1450.8L538.8 1450.8L539.3 1450.8L539.8 1450.8L540.3 1450.8L540.8 1450.8L541.3 1450.8L541.8 1450.8L542.4 1450.8L542.9 1450.8L543.4 1450.8L543.9 1450.8L544.4 1450.8L544.9 1450.8L545.4 1450.8L545.9 1450.8L546.5 1450.8L547.0 1450.8L547.5 1450.8L548.0 1450.8L548.5 1450.8L549.0 1450.8L549.5 1450.8L550.0 1450.7L550.6 1450.7L551.1 1450.7L551.6 1450.7L552.1 1450.7L552.6 1450.7L553.1 1450.7L553.6 1450.7L554.1 1450.7L554.7 1450.7L555.2 1450.7L555.7 1450.7L556.2 1450.7L556.7 1450.7L557.2 1450.7L557.7 1450.7L558.3 1450.7L558.8 1450.7L559.3 1450.7L559.8 1450.7L560.3 1450.7L560.8 1450.7L561.3 1450.7L561.8 1450.7L562.4 1450.7L562.9 1450.7L563.4 1450.7L563.9 1450.7L564.4 1450.7L564.9 1450.7L565.4 1450.7L565.9 1450.7L566.5 1450.7L567.0 1450.7L567.5 1450.7L568.0 1450.7L568.5 1450.7L569.0 1450.7L569.5 1450.7L570.0 1450.6L570.6 1450.6L571.1 1450.6L571.6 1450.6L572.1 1450.6L572.6 1450.6L573.1 1450.6L573.6 1450.6L574.1 1450.6L574.7 1450.6L575.2 1450.6L575.7 1450.6L576.2 1450.6L576.7 1450.6L577.2 1450.6L577.7 1450.6L578.3 1450.6L578.8 1450.6L579.3 1450.6L579.8 1450.6L580.3 1450.6L580.8 1450.6L581.3 1450.6L581.8 1450.6L582.4 1450.6L582.9 1450.6L583.4 1450.6L583.9 1450.6L584.4 1450.6L584.9 1450.6L585.4 1450.6L585.9 1450.6L586.5 1450.6L587.0 1450.5L587.5 1450.5L588.0 1450.5L588.5 1450.5L589.0 1450.5L589.5 1450.5L590.0 1450.5L590.6 1450.5L591.1 1450.5L591.6 1450.5L592.1 1450.5L592.6 1450.5L593.1 1450.5L593.6 1450.5L594.1 1450.5L594.7 1450.5L595.2 1450.5L595.7 1450.5L596.2 1450.5L596.7 1450.5L597.2 1450.5L597.7 1450.5L598.3 1450.5L598.8 1450.5L599.3 1450.5L599.8 1450.5L600.3 1450.5L600.8 1450.5L601.3 1450.4L601.8 1450.4L602.4 1450.4L602.9 1450.4L603.4 1450.4L603.9 1450.4L604.4 1450.4L604.9 1450.4L605.4 1450.4L605.9 1450.4L606.5 1450.4L607.0 1450.4L607.5 1450.4L608.0 1450.4L608.5 1450.4L609.0 1450.4L609.5 1450.4L610.0 1450.4L610.6 1450.4L611.1 1450.4L611.6 1450.4L612.1 1450.4L612.6 1450.4L613.1 1450.4L613.6 1450.4L614.1 1450.3L614.7 1450.3L615.2 1450.3L615.7 1450.3L616.2 1450.3L616.7 1450.3L617.2 1450.3L617.7 1450.3L618.3 1450.3L618.8 1450.3L619.3 1450.3L619.8 1450.3L620.3 1450.3L620.8 1450.3L621.3 1450.3L621.8 1450.3L622.4 1450.3L622.9 1450.3L623.4 1450.3L623.9 1450.3L624.4 1450.3L624.9 1450.3L625.4 1450.2L625.9 1450.2L626.5 1450.2L627.0 1450.2L627.5 1450.2L628.0 1450.2L628.5 1450.2L629.0 1450.2L629.5 1450.2L630.0 1450.2L630.6 1450.2L631.1 1450.2L631.6 1450.2L632.1 1450.2L632.6 1450.2L633.1 1450.2L633.6 1450.2L634.1 1450.2L634.7 1450.2L635.2 1450.2L635.7 1450.1L636.2 1450.1L636.7 1450.1L637.2 1450.1L637.7 1450.1L638.3 1450.1L638.8 1450.1L639.3 1450.1L639.8 1450.1L640.3 1450.1L640.8 1450.1L641.3 1450.1L641.8 1450.1L642.4 1450.1L642.9 1450.1L643.4 1450.1L643.9 1450.1L644.4 1450.1L644.9 1450.0L645.4 1450.0L645.9 1450.0L646.5 1450.0L647.0 1450.0L647.5 1450.0L648.0 1450.0L648.5 1450.0L649.0 1450.0L649.5 1450.0L650.0 1450.0L650.6 1450.0L651.1 1450.0L651.6 1450.0L652.1 1450.0L652.6 1450.0L653.1 1449.9L653.6 1449.9L654.1 1449.9L654.7 1449.9L655.2 1449.9L655.7 1449.9L656.2 1449.9L656.7 1449.9L657.2 1449.9L657.7 1449.9L658.3 1449.9L658.8 1449.9L659.3 1449.9L659.8 1449.9L660.3 1449.9L660.8 1449.8L661.3 1449.8L661.8 1449.8L662.4 1449.8L662.9 1449.8L663.4 1449.8L663.9 1449.8L664.4 1449.8L664.9 1449.8L665.4 1449.8L665.9 1449.8L666.5 1449.8L667.0 1449.8L667.5 1449.8L668.0 1449.7L668.5 1449.7L669.0 1449.7L669.5 1449.7L670.0 1449.7L670.6 1449.7L671.1 1449.7L671.6 1449.7L672.1 1449.7L672.6 1449.7L673.1 1449.7L673.6 1449.7L674.1 1449.7L674.7 1449.7L675.2 1449.6L675.7 1449.6L676.2 1449.6L676.7 1449.6L677.2 1449.6L677.7 1449.6L678.3 1449.6L678.8 1449.6L679.3 1449.6L679.8 1449.6L680.3 1449.6L680.8 1449.6L681.3 1449.5L681.8 1449.5L682.4 1449.5L682.9 1449.5L683.4 1449.5L683.9 1449.5L684.4 1449.5L684.9 1449.5L685.4 1449.5L685.9 1449.5L686.5 1449.5L687.0 1449.5L687.5 1449.4L688.0 1449.4L688.5 1449.4L689.0 1449.4L689.5 1449.4L690.0 1449.4L690.6 1449.4L691.1 1449.4L691.6 1449.4L692.1 1449.4L692.6 1449.4L693.1 1449.3L693.6 1449.3L694.1 1449.3L694.7 1449.3L695.2 1449.3L695.7 1449.3L696.2 1449.3L696.7 1449.3L697.2 1449.3L697.7 1449.3L698.3 1449.2L698.8 1449.2L699.3 1449.2L699.8 1449.2L700.3 1449.2L700.8 1449.2L701.3 1449.2L701.8 1449.2L702.4 1449.2L702.9 1449.2L703.4 1449.1L703.9 1449.1L704.4 1449.1L704.9 1449.1L705.4 1449.1L705.9 1449.1L706.5 1449.1L707.0 1449.1L707.5 1449.1L708.0 1449.0L708.5 1449.0L709.0 1449.0L709.5 1449.0L710.0 1449.0L710.6 1449.0L711.1 1449.0L711.6 1449.0L712.1 1449.0L712.6 1449.0L713.1 1448.9L713.6 1448.9L714.1 1448.9L714.7 1448.9L715.2 1448.9L715.7 1448.9L716.2 1448.9L716.7 1448.9L717.2 1448.8L717.7 1448.8L718.2 1448.8L718.8 1448.8L719.3 1448.8L719.8 1448.8L720.3 1448.8L720.8 1448.8L721.3 1448.7L721.8 1448.7L722.4 1448.7L722.9 1448.7L723.4 1448.7L723.9 1448.7L724.4 1448.7L724.9 1448.7L725.4 1448.6L725.9 1448.6L726.5 1448.6L727.0 1448.6L727.5 1448.6L728.0 1448.6L728.5 1448.6L729.0 1448.6L729.5 1448.5L730.0 1448.5L730.6 1448.5L731.1 1448.5L731.6 1448.5L732.1 1448.5L732.6 1448.5L733.1 1448.5L733.6 1448.4L734.1 1448.4L734.7 1448.4L735.2 1448.4L735.7 1448.4L736.2 1448.4L736.7 1448.4L737.2 1448.3L737.7 1448.3L738.2 1448.3L738.8 1448.3L739.3 1448.3L739.8 1448.3L740.3 1448.3L740.8 1448.2L741.3 1448.2L741.8 1448.2L742.4 1448.2L742.9 1448.2L743.4 1448.2L743.9 1448.1L744.4 1448.1L744.9 1448.1L745.4 1448.1L745.9 1448.1L746.5 1448.1L747.0 1448.1L747.5 1448.0L748.0 1448.0L748.5 1448.0L749.0 1448.0L749.5 1448.0L750.0 1448.0L750.6 1447.9L751.1 1447.9L751.6 1447.9L752.1 1447.9L752.6 1447.9L753.1 1447.9L753.6 1447.8L754.1 1447.8L754.7 1447.8L755.2 1447.8L755.7 1447.8L756.2 1447.8L756.7 1447.7L757.2 1447.7L757.7 1447.7L758.2 1447.7L758.8 1447.7L759.3 1447.7L759.8 1447.6L760.3 1447.6L760.8 1447.6L761.3 1447.6L761.8 1447.6L762.4 1447.5L762.9 1447.5L763.4 1447.5L763.9 1447.5L764.4 1447.5L764.9 1447.5L765.4 1447.4L765.9 1447.4L766.5 1447.4L767.0 1447.4L767.5 1447.4L768.0 1447.3L768.5 1447.3L769.0 1447.3L769.5 1447.3L770.0 1447.3L770.6 1447.2L771.1 1447.2L771.6 1447.2L772.1 1447.2L772.6 1447.2L773.1 1447.1L773.6 1447.1L774.1 1447.1L774.7 1447.1L775.2 1447.1L775.7 1447.0L776.2 1447.0L776.7 1447.0L777.2 1447.0L777.7 1447.0L778.2 1446.9L778.8 1446.9L779.3 1446.9L779.8 1446.9L780.3 1446.9L780.8 1446.8L781.3 1446.8L781.8 1446.8L782.4 1446.8L782.9 1446.7L783.4 1446.7L783.9 1446.7L784.4 1446.7L784.9 1446.7L785.4 1446.6L785.9 1446.6L786.5 1446.6L787.0 1446.6L787.5 1446.5L788.0 1446.5L788.5 1446.5L789.0 1446.5L789.5 1446.5L790.0 1446.4L790.6 1446.4L791.1 1446.4L791.6 1446.4L792.1 1446.3L792.6 1446.3L793.1 1446.3L793.6 1446.3L794.1 1446.2L794.7 1446.2L795.2 1446.2L795.7 1446.2L796.2 1446.1L796.7 1446.1L797.2 1446.1L797.7 1446.1L798.2 1446.0L798.8 1446.0L799.3 1446.0L799.8 1446.0L800.3 1445.9L800.8 1445.9L801.3 1445.9L801.8 1445.9L802.4 1445.8L802.9 1445.8L803.4 1445.8L803.9 1445.7L804.4 1445.7L804.9 1445.7L805.4 1445.7L805.9 1445.6L806.5 1445.6L807.0 1445.6L807.5 1445.6L808.0 1445.5L808.5 1445.5L809.0 1445.5L809.5 1445.4L810.0 1445.4L810.6 1445.4L811.1 1445.4L811.6 1445.3L812.1 1445.3L812.6 1445.3L813.1 1445.2L813.6 1445.2L814.1 1445.2L814.7 1445.2L815.2 1445.1L815.7 1445.1L816.2 1445.1L816.7 1445.0L817.2 1445.0L817.7 1445.0L818.2 1444.9L818.8 1444.9L819.3 1444.9L819.8 1444.9L820.3 1444.8L820.8 1444.8L821.3 1444.8L821.8 1444.7L822.4 1444.7L822.9 1444.7L823.4 1444.6L823.9 1444.6L824.4 1444.6L824.9 1444.5L825.4 1444.5L825.9 1444.5L826.5 1444.4L827.0 1444.4L827.5 1444.4L828.0 1444.3L828.5 1444.3L829.0 1444.3L829.5 1444.2L830.0 1444.2L830.6 1444.2L831.1 1444.1L831.6 1444.1L832.1 1444.1L832.6 1444.0L833.1 1444.0L833.6 1444.0L834.1 1443.9L834.7 1443.9L835.2 1443.9L835.7 1443.8L836.2 1443.8L836.7 1443.8L837.2 1443.7L837.7 1443.7L838.2 1443.6L838.8 1443.6L839.3 1443.6L839.8 1443.5L840.3 1443.5L840.8 1443.5L841.3 1443.4L841.8 1443.4L842.4 1443.3L842.9 1443.3L843.4 1443.3L843.9 1443.2L844.4 1443.2L844.9 1443.2L845.4 1443.1L845.9 1443.1L846.5 1443.0L847.0 1443.0L847.5 1443.0L848.0 1442.9L848.5 1442.9L849.0 1442.8L849.5 1442.8L850.0 1442.8L850.6 1442.7L851.1 1442.7L851.6 1442.6L852.1 1442.6L852.6 1442.6L853.1 1442.5L853.6 1442.5L854.1 1442.4L854.7 1442.4L855.2 1442.3L855.7 1442.3L856.2 1442.3L856.7 1442.2L857.2 1442.2L857.7 1442.1L858.2 1442.1L858.8 1442.0L859.3 1442.0L859.8 1442.0L860.3 1441.9" stroke-linecap="round" stroke-width="9.700000000000001"/>
<path d="M877.2 1440.3L877.7 1440.3L878.2 1440.2L878.8 1440.2L879.3 1440.1L879.8 1440.1L880.3 1440.0L880.8 1440.0L881.3 1439.9L881.8 1439.9L882.4 1439.8L882.9 1439.8L883.4 1439.7L883.9 1439.6L884.4 1439.6L884.9 1439.5L885.4 1439.5L885.9 1439.4L886.5 1439.4L887.0 1439.3L887.5 1439.3L888.0 1439.2L888.5 1439.1L889.0 1439.1L889.5 1439.0" stroke-linecap="round" stroke-width="9.700000000000001"/>
<path d="M921.3 1435.0L921.8 1434.9L922.3 1434.8L922.9 1434.7L923.4 1434.7L923.9 1434.6L924.4 1434.5L924.9 1434.4L925.4 1434.4L925.9 1434.3L926.5 1434.2L927.0 1434.1L927.5 1434.1L928.0 1434.0L928.5 1433.9L929.0 1433.8L929.5 1433.7L930.0 1433.7L930.6 1433.6L931.1 1433.5L931.6 1433.4L932.1 1433.3L932.6 1433.3L933.1 1433.2L933.6 1433.1L934.1 1433.0L934.7 1432.9L935.2 1432.8L935.7 1432.8L936.2 1432.7L936.7 1432.6L937.2 1432.5" stroke-linecap="round" stroke-width="9.700000000000001"/>
<path d="M953.1 1429.7L953.6 1429.6L954.1 1429.5L954.7 1429.4L955.2 1429.3L955.7 1429.2L956.2 1429.1L956.7 1429.0L957.2 1428.9L957.7 1428.8L958.2 1428.7L958.8 1428.6L959.3 1428.5L959.8 1428.4L960.3 1428.3L960.8 1428.2L961.3 1428.1L961.8 1428.0L962.3 1427.9L962.9 1427.7L963.4 1427.6L963.9 1427.5L964.4 1427.4L964.9 1427.3L965.4 1427.2L965.9 1427.1L966.5 1427.0L967.0 1426.9L967.5 1426.7L968.0 1426.6L968.5 1426.5L969.0 1426.4L969.5 1426.3L970.0 1426.2L970.6 1426.0L971.1 1425.9L971.6 1425.8L972.1 1425.7L972.6 1425.6L973.1 1425.5L973.6 1425.3L974.1 1425.2L974.7 1425.1L975.2 1425.0L975.7 1424.8L976.2 1424.7L976.7 1424.6L977.2 1424.5L977.7 1424.3L978.2 1424.2L978.8 1424.1L979.3 1424.0L979.8 1423.8L980.3 1423.7L980.8 1423.6L981.3 1423.4L981.8 1423.3L982.3 1423.2L982.9 1423.0L983.4 1422.9L983.9 1422.8L984.4 1422.6L984.9 1422.5L985.4 1422.4L985.9 1422.2L986.5 1422.1L987.0 1421.9L987.5 1421.8L988.0 1421.7L988.5 1421.5L989.0 1421.4L989.5 1421.2L990.0 1421.1L990.6 1420.9L991.1 1420.8L991.6 1420.6L992.1 1420.5L992.6 1420.3L993.1 1420.2L993.6 1420.0" stroke-linecap="round" stroke-width="9.700000000000001"/>
<path d="M1010.6 1414.6L1011.1 1414.4L1011.6 1414.3L1012.1 1414.1L1012.6 1413.9L1013.1 1413.7L1013.6 1413.5L1014.1 1413.3L1014.7 1413.2L1015.2 1413.0L1015.7 1412.8L1016.2 1412.6L1016.7 1412.4L1017.2 1412.2L1017.7 1412.0L1018.2 1411.8L1018.8 1411.6L1019.3 1411.4L1019.8 1411.2L1020.3 1411.0L1020.8 1410.8L1021.3 1410.6L1021.8 1410.4L1022.3 1410.2L1022.9 1410.0L1023.4 1409.8L1023.9 1409.6L1024.4 1409.4L1024.9 1409.2L1025.4 1409.0" stroke-linecap="round" stroke-width="9.700000000000001"/>
<path d="M1041.3 1401.9L1041.8 1401.7L1042.3 1401.4L1042.9 1401.2L1043.4 1400.9L1043.9 1400.7L1044.4 1400.4L1044.9 1400.2L1045.4 1399.9L1045.9 1399.7L1046.5 1399.4L1047.0 1399.1L1047.5 1398.9L1048.0 1398.6L1048.5 1398.4L1049.0 1398.1L1049.5 1397.8L1050.0 1397.5L1050.6 1397.3L1051.1 1397.0L1051.6 1396.7L1052.1 1396.5L1052.6 1396.2L1053.1 1395.9L1053.6 1395.6L1054.1 1395.3L1054.7 1395.1L1055.2 1394.8L1055.7 1394.5L1056.2 1394.2" stroke-linecap="round" stroke-width="9.700000000000001"/>
<path d="M1088.0 1373.1L1088.5 1372.7L1089.0 1372.3L1089.5 1371.9L1090.0 1371.5L1090.6 1371.1L1091.1 1370.7L1091.6 1370.2L1092.1 1369.8L1092.6 1369.4L1093.1 1369.0L1093.6 1368.6L1094.1 1368.1L1094.7 1367.7L1095.2 1367.3L1095.7 1366.9L1096.2 1366.4L1096.7 1366.0L1097.2 1365.6L1097.7 1365.1L1098.2 1364.7L1098.8 1364.2L1099.3 1363.8L1099.8 1363.3L1100.3 1362.9L1100.8 1362.4L1101.3 1362.0L1101.8 1361.5L1102.3 1361.1L1102.9 1360.6L1103.4 1360.1" stroke-linecap="round" stroke-width="9.700000000000001"/>
<path d="M1119.3 1344.4L1119.8 1343.9L1120.3 1343.3L1120.8 1342.8L1121.3 1342.2L1121.8 1341.7L1122.3 1341.1L1122.9 1340.5L1123.4 1340.0L1123.9 1339.4L1124.4 1338.8L1124.9 1338.2L1125.4 1337.7L1125.9 1337.1L1126.4 1336.5L1127.0 1335.9L1127.5 1335.3L1128.0 1334.7" stroke-linecap="round" stroke-width="9.700000000000001"/>
<path d="M1172.0 1449.0L1172.3 1449.0L1172.6 1449.0L1172.9 1449.0L1173.2 1449.0L1173.5 1449.0L1173.8 1449.0L1174.1 1449.0L1174.4 1449.0L1174.7 1449.0L1175.0 1449.0L1175.3 1449.0L1175.6 1449.0L1175.9 1449.0L1176.2 1449.0L1176.5 1448.9L1176.8 1448.9L1177.1 1448.9L1177.4 1448.9L1177.7 1448.9L1178.0 1448.9L1178.3 1448.9L1178.6 1448.9L1178.9 1448.9L1179.2 1448.9L1179.5 1448.9L1179.8 1448.9L1180.1 1448.9L1180.4 1448.9L1180.7 1448.9L1181.0 1448.9L1181.3 1448.9L1181.5 1448.9L1181.8 1448.9L1182.1 1448.9L1182.4 1448.9L1182.7 1448.9L1183.0 1448.9L1183.3 1448.9L1183.6 1448.9L1183.9 1448.9L1184.2 1448.9L1184.5 1448.9L1184.8 1448.9L1185.1 1448.9L1185.4 1448.9L1185.7 1448.9L1186.0 1448.9L1186.3 1448.9L1186.6 1448.9L1186.9 1448.9L1187.2 1448.9L1187.5 1448.9L1187.8 1448.9L1188.1 1448.9L1188.4 1448.9L1188.7 1448.9L1189.0 1448.9L1189.3 1448.9L1189.6 1448.9L1189.9 1448.9L1190.2 1448.9L1190.5 1448.9L1190.8 1448.9L1191.1 1448.9L1191.4 1448.9L1191.7 1448.9L1192.0 1448.9L1192.3 1448.9L1192.6 1448.9L1192.9 1448.9L1193.2 1448.9L1193.5 1448.9L1193.8 1448.9L1194.1 1448.9L1194.4 1448.9L1194.7 1448.9L1195.0 1448.9L1195.3 1448.9L1195.6 1448.9L1195.9 1448.9L1196.2 1448.9L1196.5 1448.9L1196.8 1448.9L1197.1 1448.9L1197.4 1448.9L1197.7 1448.9L1198.0 1448.9L1198.3 1448.9L1198.6 1448.9L1198.9 1448.9L1199.2 1448.8L1199.5 1448.8L1199.8 1448.8L1200.1 1448.8L1200.4 1448.8L1200.7 1448.8L1200.9 1448.8L1201.2 1448.8L1201.5 1448.8L1201.8 1448.8L1202.1 1448.8L1202.4 1448.8L1202.7 1448.8L1203.0 1448.8L1203.3 1448.8L1203.6 1448.8L1203.9 1448.8L1204.2 1448.8L1204.5 1448.8L1204.8 1448.8L1205.1 1448.8L1205.4 1448.8L1205.7 1448.8L1206.0 1448.8L1206.3 1448.8L1206.6 1448.8L1206.9 1448.8L1207.2 1448.8L1207.5 1448.8L1207.8 1448.8L1208.1 1448.8L1208.4 1448.8L1208.7 1448.8L1209.0 1448.8L1209.3 1448.8L1209.6 1448.8L1209.9 1448.8L1210.2 1448.8L1210.5 1448.8L1210.8 1448.8L1211.1 1448.8L1211.4 1448.8L1211.7 1448.8L1212.0 1448.8L1212.3 1448.8L1212.6 1448.8L1212.9 1448.8L1213.2 1448.8L1213.5 1448.8L1213.8 1448.8L1214.1 1448.8L1214.4 1448.8L1214.7 1448.8L1215.0 1448.8L1215.3 1448.8L1215.6 1448.8L1215.9 1448.8L1216.2 1448.7L1216.5 1448.7L1216.8 1448.7L1217.1 1448.7L1217.4 1448.7L1217.7 1448.7L1218.0 1448.7L1218.3 1448.7L1218.6 1448.7L1218.9 1448.7L1219.2 1448.7L1219.5 1448.7L1219.8 1448.7L1220.0 1448.7L1220.3 1448.7L1220.6 1448.7L1220.9 1448.7L1221.2 1448.7L1221.5 1448.7L1221.8 1448.7L1222.1 1448.7L1222.4 1448.7L1222.7 1448.7L1223.0 1448.7L1223.3 1448.7L1223.6 1448.7L1223.9 1448.7L1224.2 1448.7L1224.5 1448.7L1224.8 1448.7L1225.1 1448.7L1225.4 1448.7L1225.7 1448.7L1226.0 1448.7L1226.3 1448.7L1226.6 1448.7L1226.9 1448.7L1227.2 1448.7L1227.5 1448.7L1227.8 1448.7L1228.1 1448.7L1228.4 1448.7L1228.7 1448.7L1229.0 1448.7L1229.3 1448.7L1229.6 1448.7L1229.9 1448.6L1230.2 1448.6L1230.5 1448.6L1230.8 1448.6L1231.1 1448.6L1231.4 1448.6L1231.7 1448.6L1232.0 1448.6L1232.3 1448.6L1232.6 1448.6L1232.9 1448.6L1233.2 1448.6L1233.5 1448.6L1233.8 1448.6L1234.1 1448.6L1234.4 1448.6L1234.7 1448.6L1235.0 1448.6L1235.3 1448.6L1235.6 1448.6L1235.9 1448.6L1236.2 1448.6L1236.5 1448.6L1236.8 1448.6L1237.1 1448.6L1237.4 1448.6L1237.7 1448.6L1238.0 1448.6L1238.3 1448.6L1238.6 1448.6L1238.8 1448.6L1239.1 1448.6L1239.4 1448.6L1239.7 1448.6L1240.0 1448.6L1240.3 1448.6L1240.6 1448.6L1240.9 1448.6L1241.2 1448.5L1241.5 1448.5L1241.8 1448.5L1242.1 1448.5L1242.4 1448.5L1242.7 1448.5L1243.0 1448.5L1243.3 1448.5L1243.6 1448.5L1243.9 1448.5L1244.2 1448.5L1244.5 1448.5L1244.8 1448.5L1245.1 1448.5L1245.4 1448.5L1245.7 1448.5L1246.0 1448.5L1246.3 1448.5L1246.6 1448.5L1246.9 1448.5L1247.2 1448.5L1247.5 1448.5L1247.8 1448.5L1248.1 1448.5L1248.4 1448.5L1248.7 1448.5L1249.0 1448.5L1249.3 1448.5L1249.6 1448.5L1249.9 1448.5L1250.2 1448.5L1250.5 1448.5L1250.8 1448.5L1251.1 1448.4L1251.4 1448.4L1251.7 1448.4L1252.0 1448.4L1252.3 1448.4L1252.6 1448.4L1252.9 1448.4L1253.2 1448.4L1253.5 1448.4L1253.8 1448.4L1254.1 1448.4L1254.4 1448.4L1254.7 1448.4L1255.0 1448.4L1255.3 1448.4L1255.6 1448.4L1255.9 1448.4L1256.2 1448.4L1256.5 1448.4L1256.8 1448.4L1257.1 1448.4L1257.4 1448.4L1257.7 1448.4L1258.0 1448.4L1258.2 1448.4L1258.5 1448.4L1258.8 1448.4L1259.1 1448.4L1259.4 1448.3L1259.7 1448.3L1260.0 1448.3L1260.3 1448.3L1260.6 1448.3L1260.9 1448.3L1261.2 1448.3L1261.5 1448.3L1261.8 1448.3L1262.1 1448.3L1262.4 1448.3L1262.7 1448.3L1263.0 1448.3L1263.3 1448.3L1263.6 1448.3L1263.9 1448.3L1264.2 1448.3L1264.5 1448.3L1264.8 1448.3L1265.1 1448.3L1265.4 1448.3L1265.7 1448.3L1266.0 1448.3L1266.3 1448.3L1266.6 1448.3L1266.9 1448.3L1267.2 1448.2L1267.5 1448.2L1267.8 1448.2L1268.1 1448.2L1268.4 1448.2L1268.7 1448.2L1269.0 1448.2L1269.3 1448.2L1269.6 1448.2L1269.9 1448.2L1270.2 1448.2L1270.5 1448.2L1270.8 1448.2L1271.1 1448.2L1271.4 1448.2L1271.7 1448.2L1272.0 1448.2L1272.3 1448.2L1272.6 1448.2L1272.9 1448.2L1273.2 1448.2L1273.5 1448.2L1273.8 1448.2L1274.1 1448.1L1274.4 1448.1L1274.7 1448.1L1275.0 1448.1L1275.3 1448.1L1275.6 1448.1L1275.9 1448.1L1276.2 1448.1L1276.5 1448.1L1276.8 1448.1L1277.0 1448.1L1277.3 1448.1L1277.6 1448.1L1277.9 1448.1L1278.2 1448.1L1278.5 1448.1L1278.8 1448.1L1279.1 1448.1L1279.4 1448.1L1279.7 1448.1L1280.0 1448.0L1280.3 1448.0L1280.6 1448.0L1280.9 1448.0L1281.2 1448.0L1281.5 1448.0L1281.8 1448.0L1282.1 1448.0L1282.4 1448.0L1282.7 1448.0L1283.0 1448.0L1283.3 1448.0L1283.6 1448.0L1283.9 1448.0L1284.2 1448.0L1284.5 1448.0L1284.8 1448.0L1285.1 1448.0L1285.4 1448.0L1285.7 1447.9L1286.0 1447.9L1286.3 1447.9L1286.6 1447.9L1286.9 1447.9L1287.2 1447.9L1287.5 1447.9L1287.8 1447.9L1288.1 1447.9L1288.4 1447.9L1288.7 1447.9L1289.0 1447.9L1289.3 1447.9L1289.6 1447.9L1289.9 1447.9L1290.2 1447.9L1290.5 1447.9L1290.8 1447.9L1291.1 1447.8L1291.4 1447.8L1291.7 1447.8L1292.0 1447.8L1292.3 1447.8L1292.6 1447.8L1292.9 1447.8L1293.2 1447.8L1293.5 1447.8L1293.8 1447.8L1294.1 1447.8L1294.4 1447.8L1294.7 1447.8L1295.0 1447.8L1295.3 1447.8L1295.6 1447.8L1295.9 1447.7L1296.2 1447.7L1296.4 1447.7L1296.7 1447.7L1297.0 1447.7L1297.3 1447.7L1297.6 1447.7L1297.9 1447.7L1298.2 1447.7L1298.5 1447.7L1298.8 1447.7L1299.1 1447.7L1299.4 1447.7L1299.7 1447.7L1300.0 1447.7L1300.3 1447.7L1300.6 1447.6L1300.9 1447.6L1301.2 1447.6L1301.5 1447.6L1301.8 1447.6L1302.1 1447.6L1302.4 1447.6L1302.7 1447.6L1303.0 1447.6L1303.3 1447.6L1303.6 1447.6L1303.9 1447.6L1304.2 1447.6L1304.5 1447.6L1304.8 1447.5L1305.1 1447.5L1305.4 1447.5L1305.7 1447.5L1306.0 1447.5L1306.3 1447.5L1306.6 1447.5L1306.9 1447.5L1307.2 1447.5L1307.5 1447.5L1307.8 1447.5L1308.1 1447.5L1308.4 1447.5L1308.7 1447.5L1309.0 1447.4L1309.3 1447.4L1309.6 1447.4L1309.9 1447.4L1310.2 1447.4L1310.5 1447.4L1310.8 1447.4L1311.1 1447.4L1311.4 1447.4L1311.7 1447.4L1312.0 1447.4L1312.3 1447.4L1312.6 1447.3L1312.9 1447.3L1313.2 1447.3L1313.5 1447.3L1313.8 1447.3L1314.1 1447.3L1314.4 1447.3L1314.7 1447.3L1315.0 1447.3L1315.2 1447.3L1315.5 1447.3L1315.8 1447.3L1316.1 1447.3L1316.4 1447.2L1316.7 1447.2L1317.0 1447.2L1317.3 1447.2L1317.6 1447.2L1317.9 1447.2L1318.2 1447.2L1318.5 1447.2L1318.8 1447.2L1319.1 1447.2L1319.4 1447.2L1319.7 1447.1L1320.0 1447.1L1320.3 1447.1L1320.6 1447.1L1320.9 1447.1L1321.2 1447.1L1321.5 1447.1L1321.8 1447.1L1322.1 1447.1L1322.4 1447.1L1322.7 1447.1L1323.0 1447.0L1323.3 1447.0L1323.6 1447.0L1323.9 1447.0L1324.2 1447.0L1324.5 1447.0L1324.8 1447.0L1325.1 1447.0L1325.4 1447.0L1325.7 1447.0L1326.0 1447.0L1326.3 1446.9L1326.6 1446.9L1326.9 1446.9L1327.2 1446.9L1327.5 1446.9L1327.8 1446.9L1328.1 1446.9L1328.4 1446.9L1328.7 1446.9L1329.0 1446.9L1329.3 1446.8L1329.6 1446.8L1329.9 1446.8L1330.2 1446.8L1330.5 1446.8L1330.8 1446.8L1331.1 1446.8L1331.4 1446.8L1331.7 1446.8L1332.0 1446.7L1332.3 1446.7L1332.6 1446.7L1332.9 1446.7L1333.2 1446.7L1333.5 1446.7L1333.8 1446.7L1334.1 1446.7L1334.3 1446.7L1334.6 1446.6L1334.9 1446.6L1335.2 1446.6L1335.5 1446.6L1335.8 1446.6L1336.1 1446.6L1336.4 1446.6L1336.7 1446.6L1337.0 1446.6L1337.3 1446.5L1337.6 1446.5L1337.9 1446.5L1338.2 1446.5L1338.5 1446.5L1338.8 1446.5L1339.1 1446.5L1339.4 1446.5L1339.7 1446.5L1340.0 1446.4L1340.3 1446.4L1340.6 1446.4L1340.9 1446.4L1341.2 1446.4L1341.5 1446.4L1341.8 1446.4L1342.1 1446.4L1342.4 1446.3L1342.7 1446.3L1343.0 1446.3L1343.3 1446.3L1343.6 1446.3L1343.9 1446.3L1344.2 1446.3L1344.5 1446.3L1344.8 1446.2L1345.1 1446.2L1345.4 1446.2L1345.7 1446.2L1346.0 1446.2L1346.3 1446.2L1346.6 1446.2L1346.9 1446.2L1347.2 1446.1L1347.5 1446.1L1347.8 1446.1L1348.1 1446.1L1348.4 1446.1L1348.7 1446.1L1349.0 1446.1L1349.3 1446.0L1349.6 1446.0L1349.9 1446.0L1350.2 1446.0L1350.5 1446.0L1350.8 1446.0L1351.1 1446.0L1351.4 1446.0L1351.7 1445.9L1352.0 1445.9L1352.3 1445.9L1352.6 1445.9L1352.9 1445.9L1353.2 1445.9L1353.5 1445.9L1353.7 1445.8L1354.0 1445.8L1354.3 1445.8L1354.6 1445.8L1354.9 1445.8L1355.2 1445.8L1355.5 1445.8L1355.8 1445.7L1356.1 1445.7L1356.4 1445.7L1356.7 1445.7L1357.0 1445.7L1357.3 1445.7L1357.6 1445.6L1357.9 1445.6L1358.2 1445.6L1358.5 1445.6L1358.8 1445.6L1359.1 1445.6L1359.4 1445.6L1359.7 1445.5L1360.0 1445.5L1360.3 1445.5L1360.6 1445.5L1360.9 1445.5L1361.2 1445.5L1361.5 1445.4L1361.8 1445.4L1362.1 1445.4L1362.4 1445.4L1362.7 1445.4L1363.0 1445.4L1363.3 1445.3L1363.6 1445.3L1363.9 1445.3L1364.2 1445.3L1364.5 1445.3L1364.8 1445.3L1365.1 1445.2L1365.4 1445.2L1365.7 1445.2L1366.0 1445.2L1366.3 1445.2L1366.6 1445.2L1366.9 1445.1L1367.2 1445.1L1367.5 1445.1L1367.8 1445.1L1368.1 1445.1L1368.4 1445.1L1368.7 1445.0L1369.0 1445.0L1369.3 1445.0L1369.6 1445.0L1369.9 1445.0L1370.2 1444.9L1370.5 1444.9L1370.8 1444.9L1371.1 1444.9L1371.4 1444.9L1371.7 1444.9L1372.0 1444.8L1372.3 1444.8L1372.5 1444.8L1372.8 1444.8L1373.1 1444.8L1373.4 1444.7L1373.7 1444.7L1374.0 1444.7L1374.3 1444.7L1374.6 1444.7L1374.9 1444.6L1375.2 1444.6L1375.5 1444.6L1375.8 1444.6L1376.1 1444.6L1376.4 1444.5L1376.7 1444.5L1377.0 1444.5L1377.3 1444.5L1377.6 1444.5L1377.9 1444.4L1378.2 1444.4L1378.5 1444.4L1378.8 1444.4L1379.1 1444.4L1379.4 1444.3L1379.7 1444.3L1380.0 1444.3L1380.3 1444.3L1380.6 1444.3L1380.9 1444.2L1381.2 1444.2L1381.5 1444.2L1381.8 1444.2L1382.1 1444.2L1382.4 1444.1L1382.7 1444.1L1383.0 1444.1L1383.3 1444.1L1383.6 1444.0L1383.9 1444.0L1384.2 1444.0L1384.5 1444.0L1384.8 1444.0L1385.1 1443.9L1385.4 1443.9L1385.7 1443.9L1386.0 1443.9L1386.3 1443.8L1386.6 1443.8L1386.9 1443.8L1387.2 1443.8L1387.5 1443.8L1387.8 1443.7L1388.1 1443.7L1388.4 1443.7L1388.7 1443.7L1389.0 1443.6L1389.3 1443.6L1389.6 1443.6L1389.9 1443.6L1390.2 1443.5L1390.5 1443.5L1390.8 1443.5L1391.1 1443.5L1391.4 1443.4L1391.7 1443.4L1391.9 1443.4L1392.2 1443.4L1392.5 1443.3L1392.8 1443.3L1393.1 1443.3L1393.4 1443.3L1393.7 1443.2L1394.0 1443.2L1394.3 1443.2L1394.6 1443.2L1394.9 1443.1L1395.2 1443.1L1395.5 1443.1L1395.8 1443.1L1396.1 1443.0L1396.4 1443.0L1396.7 1443.0L1397.0 1443.0L1397.3 1442.9L1397.6 1442.9L1397.9 1442.9L1398.2 1442.9L1398.5 1442.8L1398.8 1442.8L1399.1 1442.8L1399.4 1442.8L1399.7 1442.7L1400.0 1442.7L1400.3 1442.7L1400.6 1442.6L1400.9 1442.6L1401.2 1442.6L1401.5 1442.6L1401.8 1442.5L1402.1 1442.5L1402.4 1442.5L1402.7 1442.4L1403.0 1442.4L1403.3 1442.4L1403.6 1442.4L1403.9 1442.3L1404.2 1442.3L1404.5 1442.3L1404.8 1442.2L1405.1 1442.2L1405.4 1442.2L1405.7 1442.2L1406.0 1442.1L1406.3 1442.1L1406.6 1442.1L1406.9 1442.0L1407.2 1442.0L1407.5 1442.0L1407.8 1441.9L1408.1 1441.9L1408.4 1441.9L1408.7 1441.9L1409.0 1441.8L1409.3 1441.8L1409.6 1441.8L1409.9 1441.7L1410.2 1441.7L1410.5 1441.7L1410.8 1441.6L1411.0 1441.6L1411.3 1441.6L1411.6 1441.5L1411.9 1441.5L1412.2 1441.5L1412.5 1441.4L1412.8 1441.4L1413.1 1441.4L1413.4 1441.4L1413.7 1441.3L1414.0 1441.3L1414.3 1441.3L1414.6 1441.2L1414.9 1441.2L1415.2 1441.2L1415.5 1441.1L1415.8 1441.1L1416.1 1441.1L1416.4 1441.0L1416.7 1441.0L1417.0 1440.9L1417.3 1440.9L1417.6 1440.9L1417.9 1440.8L1418.2 1440.8L1418.5 1440.8L1418.8 1440.7L1419.1 1440.7L1419.4 1440.7L1419.7 1440.6L1420.0 1440.6L1420.3 1440.6L1420.6 1440.5L1420.9 1440.5L1421.2 1440.5L1421.5 1440.4L1421.8 1440.4L1422.1 1440.3L1422.4 1440.3L1422.7 1440.3L1423.0 1440.2L1423.3 1440.2L1423.6 1440.2L1423.9 1440.1L1424.2 1440.1L1424.5 1440.0L1424.8 1440.0L1425.1 1440.0L1425.4 1439.9L1425.7 1439.9L1426.0 1439.9L1426.3 1439.8L1426.6 1439.8L1426.9 1439.7L1427.2 1439.7L1427.5 1439.7L1427.8 1439.6L1428.1 1439.6L1428.4 1439.5L1428.7 1439.5L1429.0 1439.5L1429.3 1439.4L1429.6 1439.4L1429.8 1439.3L1430.1 1439.3L1430.4 1439.3L1430.7 1439.2L1431.0 1439.2L1431.3 1439.1L1431.6 1439.1L1431.9 1439.1L1432.2 1439.0L1432.5 1439.0L1432.8 1438.9L1433.1 1438.9L1433.4 1438.8L1433.7 1438.8L1434.0 1438.8L1434.3 1438.7L1434.6 1438.7L1434.9 1438.6L1435.2 1438.6L1435.5 1438.5L1435.8 1438.5L1436.1 1438.5L1436.4 1438.4L1436.7 1438.4L1437.0 1438.3L1437.3 1438.3L1437.6 1438.2L1437.9 1438.2L1438.2 1438.1L1438.5 1438.1L1438.8 1438.1L1439.1 1438.0L1439.4 1438.0L1439.7 1437.9L1440.0 1437.9L1440.3 1437.8L1440.6 1437.8L1440.9 1437.7L1441.2 1437.7L1441.5 1437.6L1441.8 1437.6L1442.1 1437.5L1442.4 1437.5L1442.7 1437.4L1443.0 1437.4L1443.3 1437.3L1443.6 1437.3L1443.9 1437.3L1444.2 1437.2L1444.5 1437.2L1444.8 1437.1L1445.1 1437.1L1445.4 1437.0L1445.7 1437.0L1446.0 1436.9L1446.3 1436.9L1446.6 1436.8L1446.9 1436.8L1447.2 1436.7L1447.5 1436.7L1447.8 1436.6L1448.1 1436.6L1448.4 1436.5L1448.7 1436.5L1449.0 1436.4L1449.2 1436.3L1449.5 1436.3L1449.8 1436.2L1450.1 1436.2L1450.4 1436.1L1450.7 1436.1L1451.0 1436.0L1451.3 1436.0L1451.6 1435.9L1451.9 1435.9L1452.2 1435.8L1452.5 1435.8L1452.8 1435.7L1453.1 1435.7L1453.4 1435.6L1453.7 1435.5L1454.0 1435.5L1454.3 1435.4L1454.6 1435.4L1454.9 1435.3L1455.2 1435.3L1455.5 1435.2L1455.8 1435.2L1456.1 1435.1L1456.4 1435.0L1456.7 1435.0L1457.0 1434.9L1457.3 1434.9L1457.6 1434.8L1457.9 1434.8L1458.2 1434.7L1458.5 1434.6L1458.8 1434.6L1459.1 1434.5L1459.4 1434.5L1459.7 1434.4L1460.0 1434.3L1460.3 1434.3L1460.6 1434.2L1460.9 1434.2L1461.2 1434.1L1461.5 1434.1L1461.8 1434.0L1462.1 1433.9L1462.4 1433.9L1462.7 1433.8L1463.0 1433.7L1463.3 1433.7L1463.6 1433.6L1463.9 1433.6L1464.2 1433.5L1464.5 1433.4L1464.8 1433.4L1465.1 1433.3L1465.4 1433.2L1465.7 1433.2L1466.0 1433.1L1466.3 1433.1L1466.6 1433.0L1466.9 1432.9L1467.2 1432.9L1467.5 1432.8L1467.8 1432.7L1468.0 1432.7L1468.3 1432.6L1468.6 1432.5L1468.9 1432.5L1469.2 1432.4L1469.5 1432.3L1469.8 1432.3L1470.1 1432.2L1470.4 1432.1L1470.7 1432.1L1471.0 1432.0L1471.3 1431.9L1471.6 1431.9L1471.9 1431.8L1472.2 1431.7L1472.5 1431.7L1472.8 1431.6L1473.1 1431.5L1473.4 1431.5L1473.7 1431.4L1474.0 1431.3L1474.3 1431.2L1474.6 1431.2L1474.9 1431.1L1475.2 1431.0L1475.5 1431.0L1475.8 1430.9L1476.1 1430.8L1476.4 1430.7L1476.7 1430.7L1477.0 1430.6L1477.3 1430.5L1477.6 1430.4L1477.9 1430.4L1478.2 1430.3L1478.5 1430.2L1478.8 1430.2L1479.1 1430.1L1479.4 1430.0L1479.7 1429.9L1480.0 1429.9L1480.3 1429.8L1480.6 1429.7L1480.9 1429.6L1481.2 1429.6L1481.5 1429.5L1481.8 1429.4L1482.1 1429.3L1482.4 1429.2L1482.7 1429.2L1483.0 1429.1L1483.3 1429.0L1483.6 1428.9L1483.9 1428.9L1484.2 1428.8L1484.5 1428.7L1484.8 1428.6L1485.1 1428.5L1485.4 1428.5L1485.7 1428.4L1486.0 1428.3L1486.3 1428.2L1486.6 1428.1L1486.9 1428.0L1487.2 1428.0L1487.4 1427.9L1487.7 1427.8L1488.0 1427.7L1488.3 1427.6L1488.6 1427.6L1488.9 1427.5L1489.2 1427.4L1489.5 1427.3L1489.8 1427.2L1490.1 1427.1L1490.4 1427.0L1490.7 1427.0L1491.0 1426.9L1491.3 1426.8L1491.6 1426.7L1491.9 1426.6L1492.2 1426.5L1492.5 1426.4L1492.8 1426.4L1493.1 1426.3L1493.4 1426.2L1493.7 1426.1L1494.0 1426.0L1494.3 1425.9L1494.6 1425.8L1494.9 1425.7L1495.2 1425.6L1495.5 1425.6L1495.8 1425.5L1496.1 1425.4L1496.4 1425.3L1496.7 1425.2L1497.0 1425.1L1497.3 1425.0L1497.6 1424.9L1497.9 1424.8L1498.2 1424.7L1498.5 1424.6L1498.8 1424.5L1499.1 1424.5L1499.4 1424.4L1499.7 1424.3L1500.0 1424.2" stroke-width="7.6"/>
<path d="M1499.1 1424.5L1499.4 1424.4L1499.7 1424.3L1500.0 1424.2L1500.3 1424.1L1500.6 1424.0L1500.9 1423.9L1501.2 1423.8L1501.5 1423.7L1501.8 1423.6L1502.1 1423.5L1502.4 1423.4L1502.7 1423.3L1503.0 1423.2L1503.3 1423.1L1503.6 1423.0L1503.9 1422.9L1504.2 1422.8L1504.5 1422.7L1504.8 1422.6L1505.1 1422.5L1505.4 1422.4L1505.7 1422.3L1506.0 1422.2L1506.2 1422.1L1506.5 1422.0L1506.8 1421.9L1507.1 1421.8L1507.4 1421.7L1507.7 1421.6L1508.0 1421.5L1508.3 1421.4L1508.6 1421.3L1508.9 1421.2L1509.2 1421.1L1509.5 1421.0L1509.8 1420.9L1510.1 1420.8L1510.4 1420.7L1510.7 1420.5L1511.0 1420.4L1511.3 1420.3L1511.6 1420.2L1511.9 1420.1L1512.2 1420.0L1512.5 1419.9L1512.8 1419.8L1513.1 1419.7L1513.4 1419.6L1513.7 1419.5L1514.0 1419.3L1514.3 1419.2L1514.6 1419.1L1514.9 1419.0L1515.2 1418.9L1515.5 1418.8L1515.8 1418.7L1516.1 1418.6L1516.4 1418.5L1516.7 1418.3L1517.0 1418.2L1517.3 1418.1L1517.6 1418.0L1517.9 1417.9L1518.2 1417.8L1518.5 1417.6L1518.8 1417.5L1519.1 1417.4L1519.4 1417.3L1519.7 1417.2L1520.0 1417.1L1520.3 1416.9L1520.6 1416.8L1520.9 1416.7L1521.2 1416.6L1521.5 1416.5L1521.8 1416.3L1522.1 1416.2L1522.4 1416.1L1522.7 1416.0L1523.0 1415.9L1523.3 1415.7L1523.6 1415.6L1523.9 1415.5L1524.2 1415.4L1524.5 1415.3L1524.8 1415.1L1525.1 1415.0L1525.3 1414.9L1525.6 1414.8L1525.9 1414.6L1526.2 1414.5L1526.5 1414.4L1526.8 1414.2L1527.1 1414.1L1527.4 1414.0L1527.7 1413.9L1528.0 1413.7L1528.3 1413.6L1528.6 1413.5L1528.9 1413.4L1529.2 1413.2L1529.5 1413.1L1529.8 1413.0L1530.1 1412.8L1530.4 1412.7L1530.7 1412.6L1531.0 1412.4L1531.3 1412.3L1531.6 1412.2L1531.9 1412.0L1532.2 1411.9L1532.5 1411.8L1532.8 1411.6L1533.1 1411.5L1533.4 1411.4L1533.7 1411.2L1534.0 1411.1L1534.3 1410.9L1534.6 1410.8L1534.9 1410.7L1535.2 1410.5L1535.5 1410.4L1535.8 1410.3L1536.1 1410.1L1536.4 1410.0L1536.7 1409.8L1537.0 1409.7L1537.3 1409.6L1537.6 1409.4L1537.9 1409.3L1538.2 1409.1L1538.5 1409.0L1538.8 1408.8L1539.1 1408.7L1539.4 1408.6L1539.7 1408.4L1540.0 1408.3L1540.3 1408.1L1540.6 1408.0L1540.9 1407.8L1541.2 1407.7L1541.5 1407.5L1541.8 1407.4L1542.1 1407.2L1542.4 1407.1L1542.7 1406.9L1543.0 1406.8L1543.3 1406.6L1543.6 1406.5L1543.9 1406.3L1544.2 1406.2L1544.5 1406.0L1544.7 1405.9L1545.0 1405.7L1545.3 1405.6L1545.6 1405.4L1545.9 1405.3L1546.2 1405.1L1546.5 1405.0L1546.8 1404.8L1547.1 1404.7L1547.4 1404.5L1547.7 1404.3L1548.0 1404.2L1548.3 1404.0L1548.6 1403.9L1548.9 1403.7L1549.2 1403.5L1549.5 1403.4L1549.8 1403.2L1550.1 1403.1L1550.4 1402.9L1550.7 1402.7L1551.0 1402.6L1551.3 1402.4L1551.6 1402.3L1551.9 1402.1L1552.2 1401.9L1552.5 1401.8L1552.8 1401.6L1553.1 1401.4L1553.4 1401.3L1553.7 1401.1L1554.0 1400.9L1554.3 1400.8L1554.6 1400.6L1554.9 1400.4L1555.2 1400.3L1555.5 1400.1L1555.8 1399.9L1556.1 1399.8L1556.4 1399.6L1556.7 1399.4L1557.0 1399.2L1557.3 1399.1L1557.6 1398.9L1557.9 1398.7L1558.2 1398.6L1558.5 1398.4L1558.8 1398.2L1559.1 1398.0L1559.4 1397.9L1559.7 1397.7L1560.0 1397.5L1560.3 1397.3L1560.6 1397.1L1560.9 1397.0L1561.2 1396.8L1561.5 1396.6L1561.8 1396.4L1562.1 1396.2L1562.4 1396.1L1562.7 1395.9L1563.0 1395.7L1563.3 1395.5L1563.5 1395.3L1563.8 1395.2L1564.1 1395.0L1564.4 1394.8L1564.7 1394.6L1565.0 1394.4L1565.3 1394.2L1565.6 1394.0L1565.9 1393.9L1566.2 1393.7L1566.5 1393.5L1566.8 1393.3L1567.1 1393.1L1567.4 1392.9L1567.7 1392.7L1568.0 1392.5L1568.3 1392.3L1568.6 1392.1L1568.9 1392.0L1569.2 1391.8L1569.5 1391.6L1569.8 1391.4L1570.1 1391.2L1570.4 1391.0L1570.7 1390.8L1571.0 1390.6L1571.3 1390.4L1571.6 1390.2L1571.9 1390.0L1572.2 1389.8L1572.5 1389.6L1572.8 1389.4L1573.1 1389.2L1573.4 1389.0L1573.7 1388.8L1574.0 1388.6L1574.3 1388.4L1574.6 1388.2L1574.9 1388.0L1575.2 1387.8L1575.5 1387.6L1575.8 1387.4L1576.1 1387.2L1576.4 1387.0L1576.7 1386.8L1577.0 1386.5L1577.3 1386.3L1577.6 1386.1L1577.9 1385.9L1578.2 1385.7L1578.5 1385.5L1578.8 1385.3L1579.1 1385.1L1579.4 1384.9L1579.7 1384.7L1580.0 1384.4L1580.3 1384.2L1580.6 1384.0L1580.9 1383.8L1581.2 1383.6L1581.5 1383.4L1581.8 1383.1L1582.1 1382.9L1582.4 1382.7L1582.7 1382.5L1582.9 1382.3L1583.2 1382.1L1583.5 1381.8L1583.8 1381.6L1584.1 1381.4L1584.4 1381.2L1584.7 1380.9L1585.0 1380.7L1585.3 1380.5L1585.6 1380.3L1585.9 1380.0L1586.2 1379.8L1586.5 1379.6L1586.8 1379.4L1587.1 1379.1L1587.4 1378.9L1587.7 1378.7L1588.0 1378.4L1588.3 1378.2L1588.6 1378.0L1588.9 1377.8L1589.2 1377.5L1589.5 1377.3L1589.8 1377.1L1590.1 1376.8L1590.4 1376.6L1590.7 1376.4L1591.0 1376.1L1591.3 1375.9L1591.6 1375.6L1591.9 1375.4L1592.2 1375.2L1592.5 1374.9L1592.8 1374.7L1593.1 1374.4L1593.4 1374.2L1593.7 1374.0L1594.0 1373.7L1594.3 1373.5L1594.6 1373.2L1594.9 1373.0L1595.2 1372.7L1595.5 1372.5L1595.8 1372.3L1596.1 1372.0L1596.4 1371.8L1596.7 1371.5L1597.0 1371.3L1597.3 1371.0L1597.6 1370.8L1597.9 1370.5L1598.2 1370.3L1598.5 1370.0L1598.8 1369.8L1599.1 1369.5L1599.4 1369.2L1599.7 1369.0L1600.0 1368.7L1600.3 1368.5L1600.6 1368.2L1600.9 1368.0L1601.2 1367.7L1601.5 1367.4L1601.8 1367.2L1602.0 1366.9L1602.3 1366.7L1602.6 1366.4L1602.9 1366.1L1603.2 1365.9L1603.5 1365.6L1603.8 1365.4L1604.1 1365.1L1604.4 1364.8L1604.7 1364.6L1605.0 1364.3L1605.3 1364.0L1605.6 1363.7L1605.9 1363.5L1606.2 1363.2L1606.5 1362.9L1606.8 1362.7L1607.1 1362.4L1607.4 1362.1L1607.7 1361.8L1608.0 1361.6L1608.3 1361.3L1608.6 1361.0L1608.9 1360.7L1609.2 1360.5L1609.5 1360.2L1609.8 1359.9L1610.1 1359.6L1610.4 1359.4L1610.7 1359.1L1611.0 1358.8L1611.3 1358.5L1611.6 1358.2L1611.9 1357.9L1612.2 1357.7L1612.5 1357.4L1612.8 1357.1L1613.1 1356.8L1613.4 1356.5L1613.7 1356.2L1614.0 1355.9L1614.3 1355.6L1614.6 1355.4L1614.9 1355.1L1615.2 1354.8L1615.5 1354.5L1615.8 1354.2L1616.1 1353.9L1616.4 1353.6L1616.7 1353.3L1617.0 1353.0L1617.3 1352.7L1617.6 1352.4L1617.9 1352.1L1618.2 1351.8L1618.5 1351.5L1618.8 1351.2L1619.1 1350.9L1619.4 1350.6L1619.7 1350.3L1620.0 1350.0L1620.3 1349.7L1620.6 1349.4L1620.8 1349.1L1621.1 1348.8L1621.4 1348.5L1621.7 1348.2L1622.0 1347.8L1622.3 1347.5L1622.6 1347.2L1622.9 1346.9L1623.2 1346.6L1623.5 1346.3L1623.8 1346.0L1624.1 1345.7L1624.4 1345.3L1624.7 1345.0L1625.0 1344.7L1625.3 1344.4L1625.6 1344.1L1625.9 1343.8L1626.2 1343.4L1626.5 1343.1L1626.8 1342.8L1627.1 1342.5L1627.4 1342.1L1627.7 1341.8L1628.0 1341.5L1628.3 1341.2L1628.6 1340.8L1628.9 1340.5L1629.2 1340.2L1629.5 1339.9L1629.8 1339.5L1630.1 1339.2L1630.4 1338.9L1630.7 1338.5L1631.0 1338.2L1631.3 1337.9L1631.6 1337.5L1631.9 1337.2L1632.2 1336.8L1632.5 1336.5L1632.8 1336.2L1633.1 1335.8L1633.4 1335.5L1633.7 1335.2L1634.0 1334.8L1634.3 1334.5L1634.6 1334.1L1634.9 1333.8L1635.2 1333.4L1635.5 1333.1L1635.8 1332.7L1636.1 1332.4L1636.4 1332.0L1636.7 1331.7L1637.0 1331.3L1637.3 1331.0L1637.6 1330.6L1637.9 1330.3L1638.2 1329.9L1638.5 1329.6L1638.8 1329.2L1639.1 1328.9L1639.4 1328.5L1639.7 1328.1L1640.0 1327.8L1640.2 1327.4L1640.5 1327.1L1640.8 1326.7L1641.1 1326.3L1641.4 1326.0L1641.7 1325.6L1642.0 1325.2L1642.3 1324.9L1642.6 1324.5L1642.9 1324.1L1643.2 1323.8L1643.5 1323.4L1643.8 1323.0L1644.1 1322.7L1644.4 1322.3L1644.7 1321.9L1645.0 1321.5L1645.3 1321.2L1645.6 1320.8L1645.9 1320.4L1646.2 1320.0L1646.5 1319.6L1646.8 1319.3" stroke-width="5.6"/>
<path d="M1177.1 1448.9L1177.4 1448.9L1177.7 1448.9L1178.0 1448.9L1178.3 1448.9L1178.6 1448.9L1178.9 1448.9L1179.2 1448.9L1179.5 1448.9L1179.8 1448.9L1180.1 1448.9L1180.4 1448.9L1180.7 1448.9L1181.0 1448.9L1181.3 1448.9L1181.5 1448.9L1181.8 1448.9L1182.1 1448.9L1182.4 1448.9L1182.7 1448.9L1183.0 1448.9L1183.3 1448.9L1183.6 1448.9L1183.9 1448.9L1184.2 1448.9L1184.5 1448.9L1184.8 1448.9L1185.1 1448.9L1185.4 1448.9L1185.7 1448.9L1186.0 1448.9L1186.3 1448.9L1186.6 1448.9L1186.9 1448.9L1187.2 1448.9L1187.5 1448.9L1187.8 1448.9L1188.1 1448.9L1188.4 1448.9L1188.7 1448.9L1189.0 1448.9L1189.3 1448.9L1189.6 1448.9L1189.9 1448.9L1190.2 1448.9L1190.5 1448.9L1190.8 1448.9L1191.1 1448.9L1191.4 1448.9L1191.7 1448.9L1192.0 1448.9L1192.3 1448.9L1192.6 1448.9L1192.9 1448.9L1193.2 1448.9L1193.5 1448.9L1193.8 1448.9L1194.1 1448.9L1194.4 1448.9L1194.7 1448.9L1195.0 1448.9L1195.3 1448.9L1195.6 1448.9L1195.9 1448.9L1196.2 1448.9L1196.5 1448.9L1196.8 1448.9L1197.1 1448.9L1197.4 1448.9L1197.7 1448.9L1198.0 1448.9L1198.3 1448.9L1198.6 1448.9L1198.9 1448.9L1199.2 1448.8L1199.5 1448.8L1199.8 1448.8L1200.1 1448.8L1200.4 1448.8L1200.7 1448.8L1200.9 1448.8L1201.2 1448.8L1201.5 1448.8L1201.8 1448.8L1202.1 1448.8L1202.4 1448.8L1202.7 1448.8L1203.0 1448.8L1203.3 1448.8L1203.6 1448.8L1203.9 1448.8L1204.2 1448.8L1204.5 1448.8L1204.8 1448.8L1205.1 1448.8L1205.4 1448.8L1205.7 1448.8L1206.0 1448.8L1206.3 1448.8L1206.6 1448.8L1206.9 1448.8L1207.2 1448.8L1207.5 1448.8L1207.8 1448.8L1208.1 1448.8L1208.4 1448.8L1208.7 1448.8L1209.0 1448.8L1209.3 1448.8L1209.6 1448.8L1209.9 1448.8L1210.2 1448.8L1210.5 1448.8L1210.8 1448.8L1211.1 1448.8L1211.4 1448.8L1211.7 1448.8L1212.0 1448.8L1212.3 1448.8L1212.6 1448.8L1212.9 1448.8L1213.2 1448.8L1213.5 1448.8L1213.8 1448.8L1214.1 1448.8L1214.4 1448.8L1214.7 1448.8L1215.0 1448.8L1215.3 1448.8L1215.6 1448.8L1215.9 1448.8L1216.2 1448.7L1216.5 1448.7L1216.8 1448.7L1217.1 1448.7L1217.4 1448.7L1217.7 1448.7L1218.0 1448.7L1218.3 1448.7L1218.6 1448.7L1218.9 1448.7L1219.2 1448.7L1219.5 1448.7L1219.8 1448.7L1220.0 1448.7L1220.3 1448.7L1220.6 1448.7L1220.9 1448.7L1221.2 1448.7L1221.5 1448.7L1221.8 1448.7L1222.1 1448.7L1222.4 1448.7L1222.7 1448.7L1223.0 1448.7L1223.3 1448.7L1223.6 1448.7L1223.9 1448.7L1224.2 1448.7L1224.5 1448.7L1224.8 1448.7L1225.1 1448.7L1225.4 1448.7L1225.7 1448.7L1226.0 1448.7L1226.3 1448.7L1226.6 1448.7L1226.9 1448.7L1227.2 1448.7L1227.5 1448.7L1227.8 1448.7L1228.1 1448.7L1228.4 1448.7L1228.7 1448.7L1229.0 1448.7L1229.3 1448.7L1229.6 1448.7L1229.9 1448.6L1230.2 1448.6L1230.5 1448.6L1230.8 1448.6L1231.1 1448.6L1231.4 1448.6L1231.7 1448.6L1232.0 1448.6L1232.3 1448.6L1232.6 1448.6L1232.9 1448.6L1233.2 1448.6L1233.5 1448.6L1233.8 1448.6L1234.1 1448.6L1234.4 1448.6L1234.7 1448.6L1235.0 1448.6L1235.3 1448.6L1235.6 1448.6L1235.9 1448.6L1236.2 1448.6L1236.5 1448.6L1236.8 1448.6L1237.1 1448.6L1237.4 1448.6L1237.7 1448.6L1238.0 1448.6L1238.3 1448.6L1238.6 1448.6L1238.8 1448.6L1239.1 1448.6L1239.4 1448.6L1239.7 1448.6L1240.0 1448.6L1240.3 1448.6L1240.6 1448.6L1240.9 1448.6L1241.2 1448.5L1241.5 1448.5L1241.8 1448.5L1242.1 1448.5L1242.4 1448.5L1242.7 1448.5L1243.0 1448.5L1243.3 1448.5L1243.6 1448.5L1243.9 1448.5L1244.2 1448.5L1244.5 1448.5L1244.8 1448.5L1245.1 1448.5L1245.4 1448.5L1245.7 1448.5L1246.0 1448.5L1246.3 1448.5L1246.6 1448.5L1246.9 1448.5L1247.2 1448.5L1247.5 1448.5L1247.8 1448.5L1248.1 1448.5L1248.4 1448.5L1248.7 1448.5L1249.0 1448.5L1249.3 1448.5L1249.6 1448.5L1249.9 1448.5L1250.2 1448.5L1250.5 1448.5L1250.8 1448.5L1251.1 1448.4L1251.4 1448.4L1251.7 1448.4L1252.0 1448.4L1252.3 1448.4L1252.6 1448.4L1252.9 1448.4L1253.2 1448.4L1253.5 1448.4L1253.8 1448.4L1254.1 1448.4L1254.4 1448.4L1254.7 1448.4L1255.0 1448.4L1255.3 1448.4L1255.6 1448.4L1255.9 1448.4L1256.2 1448.4L1256.5 1448.4L1256.8 1448.4L1257.1 1448.4L1257.4 1448.4L1257.7 1448.4L1258.0 1448.4L1258.2 1448.4L1258.5 1448.4L1258.8 1448.4L1259.1 1448.4L1259.4 1448.3L1259.7 1448.3L1260.0 1448.3L1260.3 1448.3L1260.6 1448.3L1260.9 1448.3L1261.2 1448.3L1261.5 1448.3L1261.8 1448.3L1262.1 1448.3L1262.4 1448.3L1262.7 1448.3L1263.0 1448.3L1263.3 1448.3L1263.6 1448.3L1263.9 1448.3L1264.2 1448.3L1264.5 1448.3L1264.8 1448.3L1265.1 1448.3L1265.4 1448.3L1265.7 1448.3L1266.0 1448.3L1266.3 1448.3L1266.6 1448.3L1266.9 1448.3L1267.2 1448.2L1267.5 1448.2L1267.8 1448.2L1268.1 1448.2L1268.4 1448.2L1268.7 1448.2L1269.0 1448.2L1269.3 1448.2L1269.6 1448.2L1269.9 1448.2L1270.2 1448.2L1270.5 1448.2L1270.8 1448.2L1271.1 1448.2L1271.4 1448.2L1271.7 1448.2L1272.0 1448.2L1272.3 1448.2L1272.6 1448.2L1272.9 1448.2L1273.2 1448.2L1273.5 1448.2L1273.8 1448.2L1274.1 1448.1L1274.4 1448.1L1274.7 1448.1L1275.0 1448.1L1275.3 1448.1L1275.6 1448.1L1275.9 1448.1L1276.2 1448.1L1276.5 1448.1L1276.8 1448.1L1277.0 1448.1L1277.3 1448.1L1277.6 1448.1L1277.9 1448.1L1278.2 1448.1L1278.5 1448.1L1278.8 1448.1L1279.1 1448.1L1279.4 1448.1L1279.7 1448.1L1280.0 1448.0L1280.3 1448.0L1280.6 1448.0L1280.9 1448.0L1281.2 1448.0L1281.5 1448.0L1281.8 1448.0L1282.1 1448.0L1282.4 1448.0L1282.7 1448.0L1283.0 1448.0L1283.3 1448.0L1283.6 1448.0L1283.9 1448.0L1284.2 1448.0L1284.5 1448.0L1284.8 1448.0L1285.1 1448.0L1285.4 1448.0L1285.7 1447.9L1286.0 1447.9L1286.3 1447.9L1286.6 1447.9L1286.9 1447.9L1287.2 1447.9L1287.5 1447.9L1287.8 1447.9L1288.1 1447.9L1288.4 1447.9L1288.7 1447.9L1289.0 1447.9L1289.3 1447.9L1289.6 1447.9L1289.9 1447.9L1290.2 1447.9L1290.5 1447.9L1290.8 1447.9L1291.1 1447.8L1291.4 1447.8L1291.7 1447.8L1292.0 1447.8L1292.3 1447.8L1292.6 1447.8L1292.9 1447.8L1293.2 1447.8L1293.5 1447.8L1293.8 1447.8L1294.1 1447.8L1294.4 1447.8L1294.7 1447.8L1295.0 1447.8L1295.3 1447.8L1295.6 1447.8L1295.9 1447.7L1296.2 1447.7L1296.4 1447.7L1296.7 1447.7L1297.0 1447.7L1297.3 1447.7L1297.6 1447.7L1297.9 1447.7L1298.2 1447.7L1298.5 1447.7L1298.8 1447.7L1299.1 1447.7L1299.4 1447.7L1299.7 1447.7L1300.0 1447.7L1300.3 1447.7L1300.6 1447.6L1300.9 1447.6L1301.2 1447.6L1301.5 1447.6L1301.8 1447.6L1302.1 1447.6L1302.4 1447.6L1302.7 1447.6L1303.0 1447.6L1303.3 1447.6L1303.6 1447.6L1303.9 1447.6L1304.2 1447.6L1304.5 1447.6L1304.8 1447.5L1305.1 1447.5L1305.4 1447.5L1305.7 1447.5L1306.0 1447.5L1306.3 1447.5L1306.6 1447.5L1306.9 1447.5L1307.2 1447.5L1307.5 1447.5L1307.8 1447.5L1308.1 1447.5L1308.4 1447.5L1308.7 1447.5L1309.0 1447.4L1309.3 1447.4L1309.6 1447.4L1309.9 1447.4L1310.2 1447.4L1310.5 1447.4L1310.8 1447.4L1311.1 1447.4L1311.4 1447.4L1311.7 1447.4L1312.0 1447.4L1312.3 1447.4L1312.6 1447.3L1312.9 1447.3L1313.2 1447.3L1313.5 1447.3L1313.8 1447.3L1314.1 1447.3L1314.4 1447.3L1314.7 1447.3L1315.0 1447.3L1315.2 1447.3L1315.5 1447.3L1315.8 1447.3L1316.1 1447.3L1316.4 1447.2L1316.7 1447.2L1317.0 1447.2L1317.3 1447.2L1317.6 1447.2L1317.9 1447.2L1318.2 1447.2L1318.5 1447.2L1318.8 1447.2L1319.1 1447.2L1319.4 1447.2L1319.7 1447.1L1320.0 1447.1L1320.3 1447.1L1320.6 1447.1L1320.9 1447.1L1321.2 1447.1L1321.5 1447.1L1321.8 1447.1L1322.1 1447.1L1322.4 1447.1L1322.7 1447.1L1323.0 1447.0L1323.3 1447.0L1323.6 1447.0L1323.9 1447.0L1324.2 1447.0L1324.5 1447.0L1324.8 1447.0L1325.1 1447.0L1325.4 1447.0L1325.7 1447.0L1326.0 1447.0L1326.3 1446.9L1326.6 1446.9L1326.9 1446.9L1327.2 1446.9L1327.5 1446.9L1327.8 1446.9L1328.1 1446.9L1328.4 1446.9L1328.7 1446.9L1329.0 1446.9L1329.3 1446.8L1329.6 1446.8L1329.9 1446.8L1330.2 1446.8L1330.5 1446.8L1330.8 1446.8L1331.1 1446.8L1331.4 1446.8L1331.7 1446.8L1332.0 1446.7L1332.3 1446.7L1332.6 1446.7L1332.9 1446.7L1333.2 1446.7L1333.5 1446.7L1333.8 1446.7L1334.1 1446.7L1334.3 1446.7L1334.6 1446.6L1334.9 1446.6L1335.2 1446.6L1335.5 1446.6L1335.8 1446.6L1336.1 1446.6L1336.4 1446.6L1336.7 1446.6L1337.0 1446.6L1337.3 1446.5L1337.6 1446.5L1337.9 1446.5L1338.2 1446.5L1338.5 1446.5L1338.8 1446.5L1339.1 1446.5L1339.4 1446.5L1339.7 1446.5L1340.0 1446.4L1340.3 1446.4L1340.6 1446.4L1340.9 1446.4L1341.2 1446.4L1341.5 1446.4L1341.8 1446.4L1342.1 1446.4L1342.4 1446.3L1342.7 1446.3L1343.0 1446.3L1343.3 1446.3L1343.6 1446.3L1343.9 1446.3L1344.2 1446.3L1344.5 1446.3L1344.8 1446.2L1345.1 1446.2L1345.4 1446.2L1345.7 1446.2L1346.0 1446.2L1346.3 1446.2L1346.6 1446.2L1346.9 1446.2L1347.2 1446.1L1347.5 1446.1L1347.8 1446.1L1348.1 1446.1L1348.4 1446.1L1348.7 1446.1L1349.0 1446.1L1349.3 1446.0L1349.6 1446.0L1349.9 1446.0L1350.2 1446.0L1350.5 1446.0L1350.8 1446.0L1351.1 1446.0L1351.4 1446.0L1351.7 1445.9L1352.0 1445.9L1352.3 1445.9L1352.6 1445.9L1352.9 1445.9L1353.2 1445.9L1353.5 1445.9L1353.7 1445.8L1354.0 1445.8L1354.3 1445.8L1354.6 1445.8L1354.9 1445.8L1355.2 1445.8L1355.5 1445.8L1355.8 1445.7L1356.1 1445.7L1356.4 1445.7L1356.7 1445.7L1357.0 1445.7L1357.3 1445.7L1357.6 1445.6L1357.9 1445.6L1358.2 1445.6L1358.5 1445.6L1358.8 1445.6L1359.1 1445.6L1359.4 1445.6L1359.7 1445.5L1360.0 1445.5L1360.3 1445.5L1360.6 1445.5L1360.9 1445.5L1361.2 1445.5L1361.5 1445.4L1361.8 1445.4L1362.1 1445.4L1362.4 1445.4L1362.7 1445.4L1363.0 1445.4L1363.3 1445.3L1363.6 1445.3L1363.9 1445.3L1364.2 1445.3L1364.5 1445.3L1364.8 1445.3L1365.1 1445.2L1365.4 1445.2L1365.7 1445.2L1366.0 1445.2L1366.3 1445.2L1366.6 1445.2L1366.9 1445.1L1367.2 1445.1L1367.5 1445.1L1367.8 1445.1L1368.1 1445.1L1368.4 1445.1L1368.7 1445.0L1369.0 1445.0L1369.3 1445.0L1369.6 1445.0L1369.9 1445.0L1370.2 1444.9L1370.5 1444.9L1370.8 1444.9L1371.1 1444.9L1371.4 1444.9L1371.7 1444.9L1372.0 1444.8L1372.3 1444.8L1372.5 1444.8L1372.8 1444.8L1373.1 1444.8L1373.4 1444.7L1373.7 1444.7L1374.0 1444.7L1374.3 1444.7L1374.6 1444.7L1374.9 1444.6L1375.2 1444.6L1375.5 1444.6L1375.8 1444.6L1376.1 1444.6L1376.4 1444.5L1376.7 1444.5L1377.0 1444.5L1377.3 1444.5L1377.6 1444.5L1377.9 1444.4L1378.2 1444.4L1378.5 1444.4L1378.8 1444.4L1379.1 1444.4L1379.4 1444.3L1379.7 1444.3L1380.0 1444.3L1380.3 1444.3L1380.6 1444.3L1380.9 1444.2L1381.2 1444.2L1381.5 1444.2L1381.8 1444.2L1382.1 1444.2L1382.4 1444.1L1382.7 1444.1L1383.0 1444.1L1383.3 1444.1L1383.6 1444.0L1383.9 1444.0L1384.2 1444.0L1384.5 1444.0L1384.8 1444.0L1385.1 1443.9L1385.4 1443.9L1385.7 1443.9L1386.0 1443.9L1386.3 1443.8L1386.6 1443.8L1386.9 1443.8L1387.2 1443.8L1387.5 1443.8L1387.8 1443.7L1388.1 1443.7L1388.4 1443.7L1388.7 1443.7L1389.0 1443.6L1389.3 1443.6L1389.6 1443.6L1389.9 1443.6L1390.2 1443.5L1390.5 1443.5L1390.8 1443.5L1391.1 1443.5L1391.4 1443.4L1391.7 1443.4L1391.9 1443.4L1392.2 1443.4L1392.5 1443.3L1392.8 1443.3L1393.1 1443.3L1393.4 1443.3L1393.7 1443.2L1394.0 1443.2L1394.3 1443.2L1394.6 1443.2L1394.9 1443.1L1395.2 1443.1L1395.5 1443.1L1395.8 1443.1L1396.1 1443.0L1396.4 1443.0L1396.7 1443.0L1397.0 1443.0L1397.3 1442.9L1397.6 1442.9L1397.9 1442.9L1398.2 1442.9L1398.5 1442.8L1398.8 1442.8L1399.1 1442.8L1399.4 1442.8L1399.7 1442.7L1400.0 1442.7L1400.3 1442.7L1400.6 1442.6L1400.9 1442.6L1401.2 1442.6L1401.5 1442.6L1401.8 1442.5L1402.1 1442.5L1402.4 1442.5L1402.7 1442.4L1403.0 1442.4L1403.3 1442.4L1403.6 1442.4L1403.9 1442.3L1404.2 1442.3L1404.5 1442.3L1404.8 1442.2L1405.1 1442.2L1405.4 1442.2L1405.7 1442.2L1406.0 1442.1L1406.3 1442.1L1406.6 1442.1L1406.9 1442.0L1407.2 1442.0L1407.5 1442.0L1407.8 1441.9L1408.1 1441.9L1408.4 1441.9L1408.7 1441.9L1409.0 1441.8L1409.3 1441.8L1409.6 1441.8L1409.9 1441.7L1410.2 1441.7L1410.5 1441.7L1410.8 1441.6L1411.0 1441.6L1411.3 1441.6L1411.6 1441.5L1411.9 1441.5L1412.2 1441.5L1412.5 1441.4L1412.8 1441.4L1413.1 1441.4L1413.4 1441.4L1413.7 1441.3L1414.0 1441.3L1414.3 1441.3L1414.6 1441.2L1414.9 1441.2L1415.2 1441.2L1415.5 1441.1L1415.8 1441.1L1416.1 1441.1L1416.4 1441.0L1416.7 1441.0L1417.0 1440.9L1417.3 1440.9L1417.6 1440.9L1417.9 1440.8L1418.2 1440.8L1418.5 1440.8L1418.8 1440.7L1419.1 1440.7L1419.4 1440.7L1419.7 1440.6L1420.0 1440.6L1420.3 1440.6L1420.6 1440.5L1420.9 1440.5L1421.2 1440.5L1421.5 1440.4L1421.8 1440.4L1422.1 1440.3L1422.4 1440.3L1422.7 1440.3L1423.0 1440.2L1423.3 1440.2L1423.6 1440.2L1423.9 1440.1L1424.2 1440.1L1424.5 1440.0L1424.8 1440.0L1425.1 1440.0L1425.4 1439.9L1425.7 1439.9L1426.0 1439.9L1426.3 1439.8L1426.6 1439.8L1426.9 1439.7L1427.2 1439.7L1427.5 1439.7L1427.8 1439.6L1428.1 1439.6L1428.4 1439.5L1428.7 1439.5L1429.0 1439.5L1429.3 1439.4L1429.6 1439.4L1429.8 1439.3L1430.1 1439.3L1430.4 1439.3L1430.7 1439.2L1431.0 1439.2L1431.3 1439.1L1431.6 1439.1L1431.9 1439.1L1432.2 1439.0L1432.5 1439.0L1432.8 1438.9L1433.1 1438.9L1433.4 1438.8L1433.7 1438.8L1434.0 1438.8L1434.3 1438.7L1434.6 1438.7L1434.9 1438.6L1435.2 1438.6L1435.5 1438.5L1435.8 1438.5L1436.1 1438.5L1436.4 1438.4L1436.7 1438.4L1437.0 1438.3L1437.3 1438.3L1437.6 1438.2L1437.9 1438.2L1438.2 1438.1L1438.5 1438.1L1438.8 1438.1L1439.1 1438.0L1439.4 1438.0L1439.7 1437.9L1440.0 1437.9L1440.3 1437.8L1440.6 1437.8L1440.9 1437.7L1441.2 1437.7L1441.5 1437.6L1441.8 1437.6L1442.1 1437.5L1442.4 1437.5L1442.7 1437.4L1443.0 1437.4L1443.3 1437.3L1443.6 1437.3L1443.9 1437.3L1444.2 1437.2L1444.5 1437.2L1444.8 1437.1L1445.1 1437.1L1445.4 1437.0L1445.7 1437.0L1446.0 1436.9L1446.3 1436.9L1446.6 1436.8L1446.9 1436.8L1447.2 1436.7L1447.5 1436.7L1447.8 1436.6L1448.1 1436.6L1448.4 1436.5L1448.7 1436.5L1449.0 1436.4L1449.2 1436.3L1449.5 1436.3L1449.8 1436.2L1450.1 1436.2L1450.4 1436.1L1450.7 1436.1L1451.0 1436.0L1451.3 1436.0L1451.6 1435.9L1451.9 1435.9L1452.2 1435.8L1452.5 1435.8L1452.8 1435.7L1453.1 1435.7L1453.4 1435.6L1453.7 1435.5L1454.0 1435.5L1454.3 1435.4L1454.6 1435.4L1454.9 1435.3L1455.2 1435.3L1455.5 1435.2L1455.8 1435.2L1456.1 1435.1L1456.4 1435.0L1456.7 1435.0L1457.0 1434.9L1457.3 1434.9L1457.6 1434.8L1457.9 1434.8L1458.2 1434.7L1458.5 1434.6L1458.8 1434.6L1459.1 1434.5L1459.4 1434.5L1459.7 1434.4L1460.0 1434.3L1460.3 1434.3L1460.6 1434.2L1460.9 1434.2L1461.2 1434.1L1461.5 1434.1L1461.8 1434.0L1462.1 1433.9L1462.4 1433.9L1462.7 1433.8L1463.0 1433.7L1463.3 1433.7L1463.6 1433.6L1463.9 1433.6L1464.2 1433.5L1464.5 1433.4L1464.8 1433.4L1465.1 1433.3L1465.4 1433.2L1465.7 1433.2L1466.0 1433.1L1466.3 1433.1L1466.6 1433.0L1466.9 1432.9L1467.2 1432.9L1467.5 1432.8L1467.8 1432.7L1468.0 1432.7L1468.3 1432.6L1468.6 1432.5L1468.9 1432.5L1469.2 1432.4L1469.5 1432.3L1469.8 1432.3L1470.1 1432.2L1470.4 1432.1L1470.7 1432.1L1471.0 1432.0L1471.3 1431.9L1471.6 1431.9L1471.9 1431.8L1472.2 1431.7L1472.5 1431.7L1472.8 1431.6L1473.1 1431.5L1473.4 1431.5L1473.7 1431.4L1474.0 1431.3L1474.3 1431.2L1474.6 1431.2L1474.9 1431.1L1475.2 1431.0L1475.5 1431.0L1475.8 1430.9L1476.1 1430.8L1476.4 1430.7L1476.7 1430.7L1477.0 1430.6L1477.3 1430.5L1477.6 1430.4L1477.9 1430.4L1478.2 1430.3L1478.5 1430.2L1478.8 1430.2L1479.1 1430.1L1479.4 1430.0L1479.7 1429.9L1480.0 1429.9L1480.3 1429.8L1480.6 1429.7L1480.9 1429.6L1481.2 1429.6L1481.5 1429.5L1481.8 1429.4L1482.1 1429.3L1482.4 1429.2L1482.7 1429.2L1483.0 1429.1L1483.3 1429.0L1483.6 1428.9L1483.9 1428.9L1484.2 1428.8L1484.5 1428.7L1484.8 1428.6L1485.1 1428.5L1485.4 1428.5L1485.7 1428.4L1486.0 1428.3L1486.3 1428.2L1486.6 1428.1L1486.9 1428.0L1487.2 1428.0L1487.4 1427.9L1487.7 1427.8L1488.0 1427.7L1488.3 1427.6L1488.6 1427.6L1488.9 1427.5L1489.2 1427.4L1489.5 1427.3L1489.8 1427.2L1490.1 1427.1L1490.4 1427.0L1490.7 1427.0L1491.0 1426.9L1491.3 1426.8L1491.6 1426.7L1491.9 1426.6L1492.2 1426.5L1492.5 1426.4L1492.8 1426.4L1493.1 1426.3L1493.4 1426.2L1493.7 1426.1L1494.0 1426.0L1494.3 1425.9L1494.6 1425.8L1494.9 1425.7L1495.2 1425.6L1495.5 1425.6L1495.8 1425.5L1496.1 1425.4L1496.4 1425.3L1496.7 1425.2L1497.0 1425.1L1497.3 1425.0L1497.6 1424.9L1497.9 1424.8L1498.2 1424.7L1498.5 1424.6L1498.8 1424.5L1499.1 1424.5L1499.4 1424.4L1499.7 1424.3L1500.0 1424.2L1500.3 1424.1L1500.6 1424.0L1500.9 1423.9L1501.2 1423.8L1501.5 1423.7L1501.8 1423.6L1502.1 1423.5L1502.4 1423.4L1502.7 1423.3L1503.0 1423.2L1503.3 1423.1L1503.6 1423.0L1503.9 1422.9L1504.2 1422.8L1504.5 1422.7L1504.8 1422.6L1505.1 1422.5L1505.4 1422.4L1505.7 1422.3L1506.0 1422.2L1506.2 1422.1L1506.5 1422.0L1506.8 1421.9L1507.1 1421.8L1507.4 1421.7L1507.7 1421.6L1508.0 1421.5L1508.3 1421.4L1508.6 1421.3L1508.9 1421.2L1509.2 1421.1L1509.5 1421.0L1509.8 1420.9L1510.1 1420.8L1510.4 1420.7L1510.7 1420.5L1511.0 1420.4L1511.3 1420.3L1511.6 1420.2L1511.9 1420.1L1512.2 1420.0L1512.5 1419.9L1512.8 1419.8L1513.1 1419.7L1513.4 1419.6L1513.7 1419.5L1514.0 1419.3L1514.3 1419.2L1514.6 1419.1L1514.9 1419.0L1515.2 1418.9L1515.5 1418.8L1515.8 1418.7L1516.1 1418.6L1516.4 1418.5L1516.7 1418.3L1517.0 1418.2L1517.3 1418.1L1517.6 1418.0L1517.9 1417.9L1518.2 1417.8L1518.5 1417.6L1518.8 1417.5L1519.1 1417.4L1519.4 1417.3L1519.7 1417.2L1520.0 1417.1L1520.3 1416.9L1520.6 1416.8L1520.9 1416.7L1521.2 1416.6L1521.5 1416.5L1521.8 1416.3L1522.1 1416.2L1522.4 1416.1L1522.7 1416.0L1523.0 1415.9L1523.3 1415.7L1523.6 1415.6L1523.9 1415.5L1524.2 1415.4L1524.5 1415.3L1524.8 1415.1L1525.1 1415.0L1525.3 1414.9L1525.6 1414.8L1525.9 1414.6L1526.2 1414.5L1526.5 1414.4L1526.8 1414.2L1527.1 1414.1L1527.4 1414.0L1527.7 1413.9L1528.0 1413.7L1528.3 1413.6L1528.6 1413.5L1528.9 1413.4L1529.2 1413.2L1529.5 1413.1L1529.8 1413.0L1530.1 1412.8L1530.4 1412.7L1530.7 1412.6L1531.0 1412.4L1531.3 1412.3L1531.6 1412.2L1531.9 1412.0L1532.2 1411.9L1532.5 1411.8L1532.8 1411.6L1533.1 1411.5L1533.4 1411.4L1533.7 1411.2L1534.0 1411.1L1534.3 1410.9L1534.6 1410.8L1534.9 1410.7L1535.2 1410.5L1535.5 1410.4L1535.8 1410.3L1536.1 1410.1L1536.4 1410.0L1536.7 1409.8L1537.0 1409.7L1537.3 1409.6L1537.6 1409.4L1537.9 1409.3L1538.2 1409.1L1538.5 1409.0L1538.8 1408.8L1539.1 1408.7L1539.4 1408.6L1539.7 1408.4L1540.0 1408.3L1540.3 1408.1L1540.6 1408.0L1540.9 1407.8L1541.2 1407.7L1541.5 1407.5L1541.8 1407.4L1542.1 1407.2L1542.4 1407.1L1542.7 1406.9L1543.0 1406.8L1543.3 1406.6L1543.6 1406.5L1543.9 1406.3L1544.2 1406.2L1544.5 1406.0L1544.7 1405.9L1545.0 1405.7L1545.3 1405.6L1545.6 1405.4L1545.9 1405.3L1546.2 1405.1L1546.5 1405.0L1546.8 1404.8L1547.1 1404.7L1547.4 1404.5L1547.7 1404.3L1548.0 1404.2L1548.3 1404.0L1548.6 1403.9L1548.9 1403.7L1549.2 1403.5L1549.5 1403.4L1549.8 1403.2L1550.1 1403.1L1550.4 1402.9L1550.7 1402.7L1551.0 1402.6L1551.3 1402.4L1551.6 1402.3L1551.9 1402.1L1552.2 1401.9L1552.5 1401.8L1552.8 1401.6L1553.1 1401.4L1553.4 1401.3L1553.7 1401.1L1554.0 1400.9L1554.3 1400.8L1554.6 1400.6L1554.9 1400.4L1555.2 1400.3L1555.5 1400.1L1555.8 1399.9L1556.1 1399.8L1556.4 1399.6L1556.7 1399.4L1557.0 1399.2L1557.3 1399.1L1557.6 1398.9L1557.9 1398.7L1558.2 1398.6L1558.5 1398.4L1558.8 1398.2L1559.1 1398.0L1559.4 1397.9L1559.7 1397.7L1560.0 1397.5L1560.3 1397.3L1560.6 1397.1L1560.9 1397.0L1561.2 1396.8L1561.5 1396.6L1561.8 1396.4L1562.1 1396.2L1562.4 1396.1L1562.7 1395.9L1563.0 1395.7L1563.3 1395.5L1563.5 1395.3L1563.8 1395.2L1564.1 1395.0L1564.4 1394.8L1564.7 1394.6L1565.0 1394.4L1565.3 1394.2L1565.6 1394.0L1565.9 1393.9L1566.2 1393.7L1566.5 1393.5L1566.8 1393.3L1567.1 1393.1L1567.4 1392.9L1567.7 1392.7L1568.0 1392.5L1568.3 1392.3L1568.6 1392.1L1568.9 1392.0L1569.2 1391.8L1569.5 1391.6L1569.8 1391.4L1570.1 1391.2L1570.4 1391.0L1570.7 1390.8L1571.0 1390.6L1571.3 1390.4L1571.6 1390.2L1571.9 1390.0L1572.2 1389.8L1572.5 1389.6L1572.8 1389.4L1573.1 1389.2L1573.4 1389.0L1573.7 1388.8L1574.0 1388.6L1574.3 1388.4L1574.6 1388.2L1574.9 1388.0L1575.2 1387.8L1575.5 1387.6L1575.8 1387.4L1576.1 1387.2L1576.4 1387.0L1576.7 1386.8L1577.0 1386.5L1577.3 1386.3L1577.6 1386.1L1577.9 1385.9L1578.2 1385.7L1578.5 1385.5L1578.8 1385.3L1579.1 1385.1L1579.4 1384.9L1579.7 1384.7L1580.0 1384.4L1580.3 1384.2L1580.6 1384.0L1580.9 1383.8L1581.2 1383.6L1581.5 1383.4L1581.8 1383.1L1582.1 1382.9L1582.4 1382.7L1582.7 1382.5L1582.9 1382.3L1583.2 1382.1L1583.5 1381.8L1583.8 1381.6L1584.1 1381.4L1584.4 1381.2L1584.7 1380.9L1585.0 1380.7L1585.3 1380.5L1585.6 1380.3L1585.9 1380.0L1586.2 1379.8L1586.5 1379.6L1586.8 1379.4L1587.1 1379.1L1587.4 1378.9L1587.7 1378.7L1588.0 1378.4L1588.3 1378.2L1588.6 1378.0L1588.9 1377.8L1589.2 1377.5L1589.5 1377.3L1589.8 1377.1L1590.1 1376.8L1590.4 1376.6L1590.7 1376.4L1591.0 1376.1L1591.3 1375.9L1591.6 1375.6L1591.9 1375.4L1592.2 1375.2L1592.5 1374.9L1592.8 1374.7L1593.1 1374.4L1593.4 1374.2L1593.7 1374.0L1594.0 1373.7L1594.3 1373.5L1594.6 1373.2L1594.9 1373.0L1595.2 1372.7L1595.5 1372.5L1595.8 1372.3L1596.1 1372.0L1596.4 1371.8L1596.7 1371.5L1597.0 1371.3L1597.3 1371.0L1597.6 1370.8L1597.9 1370.5L1598.2 1370.3L1598.5 1370.0L1598.8 1369.8L1599.1 1369.5L1599.4 1369.2L1599.7 1369.0L1600.0 1368.7L1600.3 1368.5L1600.6 1368.2L1600.9 1368.0L1601.2 1367.7L1601.5 1367.4L1601.8 1367.2L1602.0 1366.9L1602.3 1366.7L1602.6 1366.4L1602.9 1366.1L1603.2 1365.9L1603.5 1365.6L1603.8 1365.4L1604.1 1365.1L1604.4 1364.8L1604.7 1364.6L1605.0 1364.3L1605.3 1364.0L1605.6 1363.7L1605.9 1363.5L1606.2 1363.2L1606.5 1362.9L1606.8 1362.7L1607.1 1362.4L1607.4 1362.1L1607.7 1361.8L1608.0 1361.6L1608.3 1361.3L1608.6 1361.0L1608.9 1360.7L1609.2 1360.5L1609.5 1360.2L1609.8 1359.9L1610.1 1359.6L1610.4 1359.4L1610.7 1359.1L1611.0 1358.8L1611.3 1358.5L1611.6 1358.2L1611.9 1357.9L1612.2 1357.7L1612.5 1357.4L1612.8 1357.1L1613.1 1356.8L1613.4 1356.5L1613.7 1356.2L1614.0 1355.9L1614.3 1355.6L1614.6 1355.4L1614.9 1355.1L1615.2 1354.8L1615.5 1354.5L1615.8 1354.2L1616.1 1353.9L1616.4 1353.6L1616.7 1353.3L1617.0 1353.0L1617.3 1352.7L1617.6 1352.4L1617.9 1352.1L1618.2 1351.8L1618.5 1351.5L1618.8 1351.2L1619.1 1350.9L1619.4 1350.6L1619.7 1350.3L1620.0 1350.0L1620.3 1349.7L1620.6 1349.4L1620.8 1349.1L1621.1 1348.8L1621.4 1348.5L1621.7 1348.2L1622.0 1347.8L1622.3 1347.5L1622.6 1347.2L1622.9 1346.9L1623.2 1346.6L1623.5 1346.3L1623.8 1346.0L1624.1 1345.7L1624.4 1345.3L1624.7 1345.0L1625.0 1344.7L1625.3 1344.4L1625.6 1344.1L1625.9 1343.8L1626.2 1343.4L1626.5 1343.1L1626.8 1342.8L1627.1 1342.5L1627.4 1342.1L1627.7 1341.8L1628.0 1341.5L1628.3 1341.2L1628.6 1340.8L1628.9 1340.5L1629.2 1340.2L1629.5 1339.9L1629.8 1339.5L1630.1 1339.2L1630.4 1338.9L1630.7 1338.5L1631.0 1338.2L1631.3 1337.9L1631.6 1337.5L1631.9 1337.2L1632.2 1336.8L1632.5 1336.5L1632.8 1336.2L1633.1 1335.8L1633.4 1335.5L1633.7 1335.2L1634.0 1334.8L1634.3 1334.5L1634.6 1334.1L1634.9 1333.8L1635.2 1333.4L1635.5 1333.1L1635.8 1332.7L1636.1 1332.4L1636.4 1332.0L1636.7 1331.7L1637.0 1331.3L1637.3 1331.0L1637.6 1330.6L1637.9 1330.3L1638.2 1329.9L1638.5 1329.6L1638.8 1329.2L1639.1 1328.9L1639.4 1328.5L1639.7 1328.1L1640.0 1327.8L1640.2 1327.4L1640.5 1327.1L1640.8 1326.7L1641.1 1326.3L1641.4 1326.0L1641.7 1325.6L1642.0 1325.2L1642.3 1324.9L1642.6 1324.5L1642.9 1324.1L1643.2 1323.8L1643.5 1323.4L1643.8 1323.0L1644.1 1322.7L1644.4 1322.3L1644.7 1321.9L1645.0 1321.5L1645.3 1321.2" stroke-width="10.2" stroke-linecap="round" stroke-dasharray="10.5 12.1"/>
<path d="M308.0 1451.1L310.0 1451.1L312.1 1451.1L314.1 1451.1L316.2 1451.1L318.2 1451.1L320.3 1451.1L322.3 1451.1L324.4 1451.1L326.4 1451.1L328.5 1451.1L330.5 1451.1L332.6 1451.1L334.6 1451.1L336.7 1451.1L338.7 1451.1L340.8 1451.1L342.8 1451.1L344.9 1451.1L346.9 1451.1L349.0 1451.1L351.0 1451.0L353.1 1451.0L355.1 1451.0L357.2 1451.0L359.2 1451.0L361.3 1451.0L363.3 1451.0L365.4 1451.0L367.4 1451.0L369.4 1451.0L371.5 1451.0L373.5 1451.0L375.6 1451.0L377.6 1451.0L379.7 1451.0L381.7 1451.0L383.8 1451.0L385.8 1451.0L387.9 1451.0L389.9 1451.0L392.0 1451.0L394.0 1451.0L396.1 1451.0L398.1 1451.0L400.2 1451.0L402.2 1451.0L404.3 1450.9L406.3 1450.9L408.4 1450.9L410.4 1450.9L412.5 1450.9L414.5 1450.9L416.6 1450.9L418.6 1450.9L420.7 1450.9L422.7 1450.9L424.8 1450.9L426.8 1450.9L428.8 1450.9L430.9 1450.9L432.9 1450.9L435.0 1450.9L437.0 1450.9L439.1 1450.8L441.1 1450.8L443.2 1450.8L445.2 1450.8L447.3 1450.8L449.3 1450.8L451.4 1450.8L453.4 1450.8L455.5 1450.8L457.5 1450.8L459.6 1450.8L461.6 1450.8L463.7 1450.7L465.7 1450.7L467.8 1450.7L469.8 1450.7L471.9 1450.7L473.9 1450.7L476.0 1450.7L478.0 1450.7L480.1 1450.7L482.1 1450.7L484.1 1450.6L486.2 1450.6L488.2 1450.6L490.3 1450.6L492.3 1450.6L494.4 1450.6L496.4 1450.6L498.5 1450.6L500.5 1450.6L502.6 1450.5L504.6 1450.5L506.7 1450.5L508.7 1450.5L510.8 1450.5L512.8 1450.5L514.9 1450.5L516.9 1450.4L519.0 1450.4L521.0 1450.4L523.1 1450.4L525.1 1450.4L527.2 1450.4L529.2 1450.4L531.3 1450.3L533.3 1450.3L535.4 1450.3L537.4 1450.3L539.5 1450.3L541.5 1450.2L543.5 1450.2L545.6 1450.2L547.6 1450.2L549.7 1450.2L551.7 1450.1L553.8 1450.1L555.8 1450.1L557.9 1450.1L559.9 1450.1L562.0 1450.0L564.0 1450.0L566.1 1450.0L568.1 1450.0L570.2 1449.9L572.2 1449.9L574.3 1449.9L576.3 1449.9L578.4 1449.8L580.4 1449.8L582.5 1449.8L584.5 1449.8L586.6 1449.7L588.6 1449.7L590.7 1449.7L592.7 1449.6L594.8 1449.6L596.8 1449.6L598.9 1449.5L600.9 1449.5L602.9 1449.5L605.0 1449.4L607.0 1449.4L609.1 1449.4L611.1 1449.3L613.2 1449.3L615.2 1449.3L617.3 1449.2L619.3 1449.2L621.4 1449.1L623.4 1449.1L625.5 1449.1L627.5 1449.0L629.6 1449.0L631.6 1448.9L633.7 1448.9L635.7 1448.8L637.8 1448.8L639.8 1448.8L641.9 1448.7L643.9 1448.7L646.0 1448.6L648.0 1448.6L650.1 1448.5L652.1 1448.5L654.2 1448.4L656.2 1448.3L658.3 1448.3L660.3 1448.2L662.3 1448.2L664.4 1448.1L666.4 1448.1L668.5 1448.0L670.5 1447.9L672.6 1447.9L674.6 1447.8L676.7 1447.7L678.7 1447.7L680.8 1447.6L682.8 1447.5L684.9 1447.5L686.9 1447.4L689.0 1447.3L691.0 1447.2L693.1 1447.2L695.1 1447.1L697.2 1447.0L699.2 1446.9L701.3 1446.8L703.3 1446.8L705.4 1446.7L707.4 1446.6L709.5 1446.5L711.5 1446.4L713.6 1446.3L715.6 1446.2L717.6 1446.1L719.7 1446.0L721.7 1445.9L723.8 1445.8L725.8 1445.7L727.9 1445.6L729.9 1445.5L732.0 1445.4L734.0 1445.3L736.1 1445.2L738.1 1445.1L740.2 1444.9L742.2 1444.8L744.3 1444.7L746.3 1444.6L748.4 1444.4L750.4 1444.3L752.5 1444.2L754.5 1444.1L756.6 1443.9L758.6 1443.8L760.7 1443.6L762.7 1443.5L764.8 1443.3L766.8 1443.2L768.9 1443.0L770.9 1442.9L773.0 1442.7L775.0 1442.6L777.0 1442.4L779.1 1442.2L781.1 1442.1L783.2 1441.9L785.2 1441.7L787.3 1441.5L789.3 1441.3L791.4 1441.1L793.4 1440.9L795.5 1440.7L797.5 1440.5L799.6 1440.3L801.6 1440.1L803.7 1439.9L805.7 1439.7L807.8 1439.5L809.8 1439.2L811.9 1439.0L813.9 1438.8L816.0 1438.5L818.0 1438.3L820.1 1438.0L822.1 1437.7L824.2 1437.5L826.2 1437.2L828.3 1436.9L830.3 1436.6L832.4 1436.4L834.4 1436.1L836.4 1435.8L838.5 1435.4L840.5 1435.1L842.6 1434.8L844.6 1434.5L846.7 1434.1L848.7 1433.8L850.8 1433.5L852.8 1433.1L854.9 1432.7L856.9 1432.4L859.0 1432.0L861.0 1431.6L863.1 1431.2L865.1 1430.8L867.2 1430.4L869.2 1430.0L871.3 1429.5L873.3 1429.1L875.4 1428.7L877.4 1428.2L879.5 1427.7L881.5 1427.3L883.6 1426.8L885.6 1426.3L887.7 1425.8L889.7 1425.3L891.8 1424.7L893.8 1424.2L895.8 1423.7L897.9 1423.1L899.9 1422.5L902.0 1421.9L904.0 1421.3L906.1 1420.7L908.1 1420.1L910.2 1419.5L912.2 1418.8L914.3 1418.2L916.3 1417.5L918.4 1416.8L920.4 1416.1L922.5 1415.4L924.5 1414.7L926.6 1413.9L928.6 1413.2L930.7 1412.4L932.7 1411.6L934.8 1410.8L936.8 1410.0L938.9 1409.2L940.9 1408.3L943.0 1407.4L945.0 1406.5L947.1 1405.6L949.1 1404.7L951.2 1403.8L953.2 1402.8L955.2 1401.8L957.3 1400.8L959.3 1399.8L961.4 1398.8L963.4 1397.7L965.5 1396.6L967.5 1395.5L969.6 1394.4L971.6 1393.2L973.7 1392.0L975.7 1390.8L977.8 1389.6L979.8 1388.4L981.9 1387.1L983.9 1385.8L986.0 1384.5L988.0 1383.2L990.1 1381.8L992.1 1380.4L994.2 1379.0L996.2 1377.5L998.3 1376.0L1000.3 1374.5L1002.4 1373.0L1004.4 1371.4L1006.5 1369.8L1008.5 1368.1L1010.5 1366.5L1012.6 1364.8L1014.6 1363.0L1016.7 1361.3L1018.7 1359.5L1020.8 1357.6L1022.8 1355.8L1024.9 1353.9L1026.9 1351.9L1029.0 1349.9L1031.0 1347.9L1033.1 1345.8L1035.1 1343.7L1037.2 1341.6L1039.2 1339.4L1041.3 1337.2L1043.3 1334.9L1045.4 1332.6L1047.4 1330.2L1049.5 1327.8L1051.5 1325.3L1053.6 1322.8L1055.6 1320.3L1057.7 1317.7L1059.7 1315.0L1061.8 1312.3L1063.8 1309.6L1065.9 1306.7L1067.9 1303.9L1069.9 1300.9L1072.0 1298.0L1074.0 1294.9L1076.1 1291.8L1078.1 1288.7L1080.2 1285.4L1082.2 1282.1L1084.3 1278.8L1086.3 1275.4L1088.4 1271.9L1090.4 1268.3L1092.5 1264.7L1094.5 1261.0L1096.6 1257.2L1098.6 1253.4L1100.7 1249.4L1102.7 1245.4L1104.8 1241.4L1106.8 1237.2L1108.9 1232.9L1110.9 1228.6L1113.0 1224.2L1115.0 1219.7L1117.1 1215.1L1119.1 1210.4L1121.2 1205.6L1123.2 1200.7L1125.3 1195.7L1127.3 1190.7"/>
<path d="M1172.0 1448.9L1173.2 1448.8L1174.4 1448.8L1175.6 1448.8L1176.8 1448.8L1178.0 1448.8L1179.3 1448.8L1180.5 1448.8L1181.7 1448.8L1182.9 1448.8L1184.1 1448.8L1185.3 1448.7L1186.5 1448.7L1187.7 1448.7L1188.9 1448.7L1190.1 1448.7L1191.3 1448.7L1192.6 1448.7L1193.8 1448.7L1195.0 1448.7L1196.2 1448.6L1197.4 1448.6L1198.6 1448.6L1199.8 1448.6L1201.0 1448.6L1202.2 1448.6L1203.4 1448.6L1204.6 1448.5L1205.9 1448.5L1207.1 1448.5L1208.3 1448.5L1209.5 1448.5L1210.7 1448.5L1211.9 1448.4L1213.1 1448.4L1214.3 1448.4L1215.5 1448.4L1216.7 1448.4L1217.9 1448.3L1219.2 1448.3L1220.4 1448.3L1221.6 1448.3L1222.8 1448.3L1224.0 1448.2L1225.2 1448.2L1226.4 1448.2L1227.6 1448.2L1228.8 1448.1L1230.0 1448.1L1231.2 1448.1L1232.5 1448.1L1233.7 1448.0L1234.9 1448.0L1236.1 1448.0L1237.3 1447.9L1238.5 1447.9L1239.7 1447.9L1240.9 1447.9L1242.1 1447.8L1243.3 1447.8L1244.5 1447.8L1245.7 1447.7L1247.0 1447.7L1248.2 1447.7L1249.4 1447.6L1250.6 1447.6L1251.8 1447.5L1253.0 1447.5L1254.2 1447.5L1255.4 1447.4L1256.6 1447.4L1257.8 1447.3L1259.0 1447.3L1260.3 1447.2L1261.5 1447.2L1262.7 1447.1L1263.9 1447.1L1265.1 1447.0L1266.3 1447.0L1267.5 1446.9L1268.7 1446.9L1269.9 1446.8L1271.1 1446.8L1272.3 1446.7L1273.6 1446.7L1274.8 1446.6L1276.0 1446.5L1277.2 1446.5L1278.4 1446.4L1279.6 1446.3L1280.8 1446.3L1282.0 1446.2L1283.2 1446.1L1284.4 1446.1L1285.6 1446.0L1286.9 1445.9L1288.1 1445.8L1289.3 1445.8L1290.5 1445.7L1291.7 1445.6L1292.9 1445.5L1294.1 1445.4L1295.3 1445.3L1296.5 1445.3L1297.7 1445.2L1298.9 1445.1L1300.2 1445.0L1301.4 1444.9L1302.6 1444.8L1303.8 1444.7L1305.0 1444.6L1306.2 1444.4L1307.4 1444.3L1308.6 1444.2L1309.8 1444.1L1311.0 1444.0L1312.2 1443.9L1313.5 1443.7L1314.7 1443.6L1315.9 1443.5L1317.1 1443.4L1318.3 1443.2L1319.5 1443.1L1320.7 1442.9L1321.9 1442.8L1323.1 1442.7L1324.3 1442.5L1325.5 1442.3L1326.8 1442.2L1328.0 1442.0L1329.2 1441.9L1330.4 1441.7L1331.6 1441.5L1332.8 1441.3L1334.0 1441.2L1335.2 1441.0L1336.4 1440.8L1337.6 1440.6L1338.8 1440.4L1340.1 1440.2L1341.3 1440.0L1342.5 1439.8L1343.7 1439.6L1344.9 1439.4L1346.1 1439.2L1347.3 1438.9L1348.5 1438.7L1349.7 1438.5L1350.9 1438.2L1352.1 1438.0L1353.3 1437.7L1354.6 1437.5L1355.8 1437.2L1357.0 1436.9L1358.2 1436.7L1359.4 1436.4L1360.6 1436.1L1361.8 1435.8L1363.0 1435.5L1364.2 1435.2L1365.4 1434.9L1366.6 1434.6L1367.9 1434.3L1369.1 1434.0L1370.3 1433.6L1371.5 1433.3L1372.7 1432.9L1373.9 1432.6L1375.1 1432.2L1376.3 1431.9L1377.5 1431.5L1378.7 1431.1L1379.9 1430.7L1381.2 1430.3L1382.4 1429.9L1383.6 1429.6L1384.8 1429.2L1386.0 1428.8L1387.2 1428.4L1388.4 1428.0L1389.6 1427.6L1390.8 1427.2L1392.0 1426.7L1393.2 1426.3L1394.5 1425.9L1395.7 1425.5L1396.9 1425.1L1398.1 1424.6L1399.3 1424.2L1400.5 1423.8L1401.7 1423.4L1402.9 1422.9L1404.1 1422.5L1405.3 1422.1L1406.5 1421.6L1407.8 1421.2L1409.0 1420.7L1410.2 1420.3L1411.4 1419.8L1412.6 1419.4L1413.8 1418.9L1415.0 1418.5L1416.2 1418.0L1417.4 1417.5L1418.6 1417.1L1419.8 1416.6L1421.1 1416.1L1422.3 1415.6L1423.5 1415.2L1424.7 1414.7L1425.9 1414.2L1427.1 1413.7L1428.3 1413.2L1429.5 1412.7L1430.7 1412.2L1431.9 1411.7L1433.1 1411.2L1434.4 1410.7L1435.6 1410.2L1436.8 1409.7L1438.0 1409.2L1439.2 1408.6L1440.4 1408.1L1441.6 1407.6L1442.8 1407.1L1444.0 1406.5L1445.2 1406.0L1446.4 1405.4L1447.7 1404.9L1448.9 1404.3L1450.1 1403.8L1451.3 1403.2L1452.5 1402.6L1453.7 1402.0L1454.9 1401.5L1456.1 1400.9L1457.3 1400.3L1458.5 1399.7L1459.7 1399.1L1461.0 1398.5L1462.2 1397.9L1463.4 1397.3L1464.6 1396.6L1465.8 1396.0L1467.0 1395.4L1468.2 1394.7L1469.4 1394.1L1470.6 1393.4L1471.8 1392.8L1473.0 1392.1L1474.2 1391.4L1475.5 1390.7L1476.7 1390.0L1477.9 1389.3L1479.1 1388.6L1480.3 1387.9L1481.5 1387.2L1482.7 1386.4L1483.9 1385.7L1485.1 1385.0L1486.3 1384.2L1487.5 1383.4L1488.8 1382.7L1490.0 1381.9L1491.2 1381.1L1492.4 1380.3L1493.6 1379.5L1494.8 1378.6L1496.0 1377.8L1497.2 1377.0L1498.4 1376.1L1499.6 1375.2L1500.8 1374.4L1502.1 1373.5L1503.3 1372.6L1504.5 1371.7L1505.7 1370.7L1506.9 1369.8L1508.1 1368.9L1509.3 1367.9L1510.5 1366.9L1511.7 1365.9L1512.9 1365.0L1514.1 1363.9L1515.4 1362.9L1516.6 1361.9L1517.8 1360.8L1519.0 1359.8L1520.2 1358.7L1521.4 1357.6L1522.6 1356.5L1523.8 1355.4L1525.0 1354.2L1526.2 1353.1L1527.4 1351.9L1528.7 1350.7L1529.9 1349.5L1531.1 1348.3L1532.3 1347.1L1533.5 1345.8L1534.7 1344.6L1535.9 1343.3L1537.1 1342.0L1538.3 1340.7L1539.5 1339.3L1540.7 1338.0L1542.0 1336.6L1543.2 1335.2L1544.4 1333.8L1545.6 1332.4L1546.8 1330.9L1548.0 1329.5L1549.2 1328.0L1550.4 1326.5L1551.6 1325.0L1552.8 1323.4L1554.0 1321.9L1555.3 1320.3L1556.5 1318.7L1557.7 1317.0L1558.9 1315.4L1560.1 1313.7L1561.3 1312.0L1562.5 1310.3L1563.7 1308.6L1564.9 1306.8L1566.1 1305.1L1567.3 1303.3L1568.6 1301.4L1569.8 1299.6L1571.0 1297.7L1572.2 1295.8L1573.4 1293.9L1574.6 1292.0L1575.8 1290.0L1577.0 1288.0L1578.2 1286.0L1579.4 1284.0L1580.6 1281.9L1581.9 1279.9L1583.1 1277.7L1584.3 1275.6L1585.5 1273.5L1586.7 1271.3L1587.9 1269.1L1589.1 1266.8L1590.3 1264.6L1591.5 1262.3L1592.7 1260.0L1593.9 1257.7L1595.1 1255.3L1596.4 1253.0L1597.6 1250.6L1598.8 1248.1L1600.0 1245.7L1601.2 1243.2L1602.4 1240.7L1603.6 1238.2L1604.8 1235.6L1606.0 1233.1L1607.2 1230.5L1608.4 1227.9L1609.7 1225.2L1610.9 1222.5L1612.1 1219.9L1613.3 1217.1L1614.5 1214.4L1615.7 1211.7L1616.9 1208.9L1618.1 1206.1L1619.3 1203.3L1620.5 1200.4L1621.7 1197.6L1623.0 1194.7L1624.2 1191.8L1625.4 1188.8L1626.6 1185.9L1627.8 1182.9L1629.0 1180.0L1630.2 1177.0L1631.4 1174.0L1632.6 1171.0L1633.8 1167.9L1635.0 1164.9L1636.3 1161.8L1637.5 1158.7L1638.7 1155.6L1639.9 1152.5L1641.1 1149.4L1642.3 1146.3L1643.5 1143.2L1644.7 1140.0L1645.9 1136.9L1647.1 1133.7L1648.3 1130.6L1649.6 1127.4L1650.8 1124.3L1652.0 1121.1L1653.2 1118.0L1654.4 1114.8L1655.6 1111.7"/>
</g>
</g>
<g style="mix-blend-mode:multiply" opacity="0.22">
<g filter="url(#b2)" fill="none">
<g stroke="#888" stroke-width="2.6">
<line x1="282.4" y1="1224.9" x2="347.4" y2="1224.9"/>
<line x1="2131.7" y1="1224.9" x2="2196.7" y2="1224.9"/>
<line x1="282.4" y1="936.6" x2="347.4" y2="936.6"/>
<line x1="2131.7" y1="936.6" x2="2196.7" y2="936.6"/>
<line x1="282.4" y1="648.2" x2="347.4" y2="648.2"/>
<line x1="2131.7" y1="648.2" x2="2196.7" y2="648.2"/>
<line x1="282.4" y1="359.9" x2="347.4" y2="359.9"/>
<line x1="2131.7" y1="359.9" x2="2196.7" y2="359.9"/>
<line x1="499.3" y1="1493.2" x2="499.3" y2="1513.2"/>
<line x1="608.0" y1="1493.2" x2="608.0" y2="1513.2"/>
<line x1="685.1" y1="1493.2" x2="685.1" y2="1513.2"/>
<line x1="745.0" y1="1493.2" x2="745.0" y2="1513.2"/>
<line x1="793.9" y1="1493.2" x2="793.9" y2="1513.2"/>
<line x1="835.2" y1="1493.2" x2="835.2" y2="1513.2"/>
<line x1="871.0" y1="1493.2" x2="871.0" y2="1513.2"/>
<line x1="902.6" y1="1493.2" x2="902.6" y2="1513.2"/>
<line x1="1116.7" y1="1493.2" x2="1116.7" y2="1513.2"/>
<line x1="1225.4" y1="1493.2" x2="1225.4" y2="1513.2"/>
<line x1="1302.6" y1="1493.2" x2="1302.6" y2="1513.2"/>
<line x1="1362.4" y1="1493.2" x2="1362.4" y2="1513.2"/>
<line x1="1411.3" y1="1493.2" x2="1411.3" y2="1513.2"/>
<line x1="1452.6" y1="1493.2" x2="1452.6" y2="1513.2"/>
<line x1="1488.4" y1="1493.2" x2="1488.4" y2="1513.2"/>
<line x1="1520.0" y1="1493.2" x2="1520.0" y2="1513.2"/>
<line x1="1734.1" y1="1493.2" x2="1734.1" y2="1513.2"/>
<line x1="1842.9" y1="1493.2" x2="1842.9" y2="1513.2"/>
<line x1="1920.0" y1="1493.2" x2="1920.0" y2="1513.2"/>
<line x1="1979.8" y1="1493.2" x2="1979.8" y2="1513.2"/>
<line x1="2028.7" y1="1493.2" x2="2028.7" y2="1513.2"/>
<line x1="2070.1" y1="1493.2" x2="2070.1" y2="1513.2"/>
<line x1="2105.9" y1="1493.2" x2="2105.9" y2="1513.2"/>
<line x1="2137.4" y1="1493.2" x2="2137.4" y2="1513.2"/>
</g>
<g stroke="#3c3c3c" stroke-width="2">
<line x1="313.4" y1="71.6" x2="313.4" y2="1543.2"/>
<line x1="2165.7" y1="71.6" x2="2165.7" y2="1543.2"/>
<line x1="930.8" y1="71.6" x2="930.8" y2="1543.2"/>
<line x1="1548.3" y1="71.6" x2="1548.3" y2="1543.2"/>
</g>
</g>
</g>
<rect x="818" y="575" width="337" height="300" fill="#fff"/>
<rect x="1387" y="611" width="279" height="227" fill="#fff"/>
<text class="tk" transform="translate(263.2,83.4) scale(0.955,1)" text-anchor="end">1.0</text>
<text class="tk" transform="translate(263.2,371.7) scale(0.955,1)" text-anchor="end">0.80</text>
<text class="tk" transform="translate(263.2,660.0) scale(0.955,1)" text-anchor="end">0.60</text>
<text class="tk" transform="translate(263.2,948.4) scale(0.955,1)" text-anchor="end">0.40</text>
<text class="tk" transform="translate(263.2,1236.7) scale(0.955,1)" text-anchor="end">0.20</text>
<text class="tk" transform="translate(263.2,1525.0) scale(0.955,1)" text-anchor="end">0.0</text>
<text class="tk" transform="translate(2214.5,85.2) scale(0.968,1)" text-anchor="start">1.00</text>
<text class="tk" transform="translate(2214.5,373.5) scale(0.968,1)" text-anchor="start">0.80</text>
<text class="tk" transform="translate(2214.5,661.8) scale(0.968,1)" text-anchor="start">0.60</text>
<text class="tk" transform="translate(2214.5,950.2) scale(0.968,1)" text-anchor="start">0.40</text>
<text class="tk" transform="translate(2214.5,1238.5) scale(0.968,1)" text-anchor="start">0.20</text>
<text class="tk" transform="translate(2214.5,1526.8) scale(0.968,1)" text-anchor="start">0.00</text>
<text class="tkx" transform="translate(320.7,1590.3) scale(0.955,1)" text-anchor="middle">10</text>
<text class="tkx" transform="translate(938.1,1590.3) scale(0.955,1)" text-anchor="middle">100</text>
<text class="tkx" transform="translate(1555.6,1590.3) scale(0.955,1)" text-anchor="middle">1,000</text>
<text class="tkx" transform="translate(2173.0,1590.3) scale(0.955,1)" text-anchor="middle">10,000</text>
<text class="ttl" x="1302" y="1696" text-anchor="middle" style="font-size:72.8px">Range (m)</text>
<text class="ttl" transform="translate(82,791.5) rotate(-90)" text-anchor="middle">Probability of Detection</text>
<text class="ttl" transform="translate(2392.2,821.7) rotate(90) scale(0.977,1)" text-anchor="middle" style="font-size:74.4px">Ranging Error Standard Deviation (m)</text>
<text class="ann" x="981.3" y="633.5" text-anchor="middle" fill="#0c0c0c" stroke="#0c0c0c">Probability</text>
<text class="ann" x="990.7" y="706.3" text-anchor="middle" fill="#0c0c0c" stroke="#0c0c0c">of detection</text>
<text class="ann" x="991.6" y="779.1" text-anchor="middle" fill="#0c0c0c" stroke="#0c0c0c">16 pixels</text>
<text class="ann" x="992.0" y="851.9" text-anchor="middle" fill="#0c0c0c" stroke="#0c0c0c">at 10 Hz</text>
<text class="ann" x="1529.5" y="670.5" text-anchor="middle" fill="#0c0c0c" stroke="#0c0c0c">16 pixels</text>
<text class="ann" x="1528.0" y="743.1" text-anchor="middle" fill="#0c0c0c" stroke="#0c0c0c">combined</text>
<text class="ann" x="1529.5" y="815.7" text-anchor="middle" fill="#0c0c0c" stroke="#0c0c0c">at 0.1 Hz</text>
<text class="ann" x="873.0" y="313.0" text-anchor="middle" fill="#e01010" stroke="#e01010">Day</text>
<text class="ann" x="1133.0" y="330.0" text-anchor="middle" fill="#0000b4" stroke="#0000b4">Night</text>
<text class="ann" x="1373.5" y="171.0" text-anchor="middle" fill="#e01010" stroke="#e01010">Day</text>
<text class="ann" x="1647.5" y="260.0" text-anchor="middle" fill="#0000b4" stroke="#0000b4">Night</text>
<text class="ann" x="1159.0" y="1162.6" text-anchor="middle" fill="#0f5d20" stroke="#0f5d20">Day</text>
<text class="ann" x="1223.5" y="1374.0" text-anchor="middle" fill="#0f5d20" stroke="#0f5d20">Night</text>
<text class="ann" x="653.5" y="1342.5" text-anchor="middle" fill="#0f5d20" stroke="#0f5d20">Ranging error</text>
<text class="ann" x="616.5" y="1416.0" text-anchor="middle" fill="#0f5d20" stroke="#0f5d20">16 pixels at 10 Hz</text>
<text class="ann" x="1820.4" y="1119.1" text-anchor="middle" fill="#0f5d20" stroke="#0f5d20">16 pixels</text>
<text class="ann" x="1820.0" y="1192.4" text-anchor="middle" fill="#0f5d20" stroke="#0f5d20">combined</text>
<text class="ann" x="1829.0" y="1265.7" text-anchor="middle" fill="#0f5d20" stroke="#0f5d20">at 0.1 Hz</text>
</svg></body></html>
